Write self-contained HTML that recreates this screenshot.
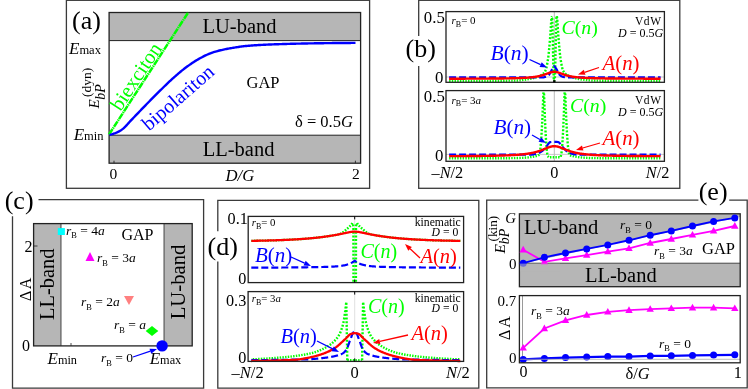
<!DOCTYPE html>
<html><head><meta charset="utf-8"><style>
html,body{margin:0;padding:0;background:#fff;}
svg{display:block;font-family:"Liberation Serif",serif;will-change:transform;}
text{stroke:#fff;stroke-width:0;}
text.g{stroke:#b6b6b6;}
</style></head><body>
<svg width="748" height="389" viewBox="0 0 748 389">
<rect width="748" height="389" fill="#fff"/>
<rect x="66.4" y="0.3" width="303.20000000000005" height="188.0" fill="none" stroke="#3a3a3a" stroke-width="1.3"/>
<rect x="109.1" y="12.5" width="251.50000000000003" height="28.1" fill="#b6b6b6" stroke="none" stroke-width="1"/>
<rect x="109.1" y="135.2" width="251.50000000000003" height="28.0" fill="#b6b6b6" stroke="none" stroke-width="1"/>
<path d="M109.1,40.6H360.6M109.1,135.2H360.6" stroke="#222" stroke-width="1"/><path d="M114,163.2v-2.5M355.4,163.2v-2.5" stroke="#222" stroke-width="0.9"/>
<rect x="109.1" y="12.5" width="251.50000000000003" height="150.7" fill="none" stroke="#222" stroke-width="1.3"/>
<path d="M109.00,134.50 L188.20,12.50" fill="none" stroke="#00ff00" stroke-width="2.5" stroke-dasharray="6.5 0.7 1.3 0.7" />
<path d="M109.50,134.80 L110.50,134.59 L111.50,134.33 L112.50,134.04 L113.50,133.73 L114.50,133.38 L115.50,133.01 L116.50,132.61 L117.50,132.16 L118.50,131.67 L119.50,131.13 L120.50,130.54 L121.50,129.90 L122.50,129.16 L123.50,128.31 L124.50,127.37 L125.50,126.37 L126.50,125.31 L127.50,124.21 L128.50,123.10 L129.50,121.98 L130.50,120.88 L131.50,119.82 L132.50,118.79 L133.50,117.77 L134.50,116.73 L135.50,115.70 L136.50,114.66 L137.50,113.61 L138.50,112.57 L139.50,111.52 L140.50,110.48 L141.50,109.43 L142.50,108.39 L143.50,107.36 L144.50,106.33 L145.50,105.30 L146.50,104.28 L147.50,103.26 L148.50,102.24 L149.50,101.22 L150.50,100.21 L151.50,99.19 L152.50,98.18 L153.50,97.18 L154.50,96.17 L155.50,95.17 L156.50,94.18 L157.50,93.18 L158.50,92.19 L159.50,91.21 L160.50,90.22 L161.50,89.23 L162.50,88.24 L163.50,87.26 L164.50,86.27 L165.50,85.30 L166.50,84.32 L167.50,83.36 L168.50,82.41 L169.50,81.46 L170.50,80.53 L171.50,79.61 L172.50,78.71 L173.50,77.82 L174.50,76.93 L175.50,76.04 L176.50,75.17 L177.50,74.30 L178.50,73.44 L179.50,72.59 L180.50,71.75 L181.50,70.93 L182.50,70.12 L183.50,69.33 L184.50,68.55 L185.50,67.80 L186.50,67.06 L187.50,66.33 L188.50,65.61 L189.50,64.89 L190.50,64.19 L191.50,63.50 L192.50,62.82 L193.50,62.16 L194.50,61.51 L195.50,60.88 L196.50,60.26 L197.50,59.67 L198.50,59.10 L199.50,58.55 L200.50,58.01 L201.50,57.48 L202.50,56.95 L203.50,56.44 L204.50,55.94 L205.50,55.45 L206.50,54.97 L207.50,54.51 L208.50,54.07 L209.50,53.65 L210.50,53.26 L211.50,52.88 L212.50,52.53 L213.50,52.21 L214.50,51.90 L215.50,51.60 L216.50,51.32 L217.50,51.04 L218.50,50.78 L219.50,50.53 L220.50,50.29 L221.50,50.05 L222.50,49.83 L223.50,49.61 L224.50,49.39 L225.50,49.18 L226.50,48.98 L227.50,48.78 L228.50,48.59 L229.50,48.41 L230.50,48.23 L231.50,48.06 L232.50,47.90 L233.50,47.74 L234.50,47.58 L235.50,47.42 L236.50,47.26 L237.50,47.10 L238.50,46.95 L239.50,46.79 L240.50,46.64 L241.50,46.50 L242.50,46.36 L243.50,46.23 L244.50,46.12 L245.50,46.02 L246.50,45.93 L247.50,45.84 L248.50,45.76 L249.50,45.68 L250.50,45.60 L251.50,45.52 L252.50,45.45 L253.50,45.38 L254.50,45.31 L255.50,45.25 L256.50,45.18 L257.50,45.12 L258.50,45.06 L259.50,45.00 L260.50,44.95 L261.50,44.90 L262.50,44.84 L263.50,44.79 L264.50,44.74 L265.50,44.70 L266.50,44.65 L267.50,44.61 L268.50,44.56 L269.50,44.52 L270.50,44.48 L271.50,44.44 L272.50,44.40 L273.50,44.36 L274.50,44.32 L275.50,44.29 L276.50,44.25 L277.50,44.21 L278.50,44.18 L279.50,44.15 L280.50,44.11 L281.50,44.08 L282.50,44.05 L283.50,44.02 L284.50,43.99 L285.50,43.96 L286.50,43.93 L287.50,43.90 L288.50,43.87 L289.50,43.85 L290.50,43.82 L291.50,43.79 L292.50,43.77 L293.50,43.74 L294.50,43.72 L295.50,43.69 L296.50,43.67 L297.50,43.65 L298.50,43.63 L299.50,43.60 L300.50,43.58 L301.50,43.56 L302.50,43.54 L303.50,43.52 L304.50,43.50 L305.50,43.48 L306.50,43.46 L307.50,43.44 L308.50,43.42 L309.50,43.40 L310.50,43.38 L311.50,43.37 L312.50,43.35 L313.50,43.33 L314.50,43.31 L315.50,43.30 L316.50,43.28 L317.50,43.27 L318.50,43.25 L319.50,43.23 L320.50,43.22 L321.50,43.21 L322.50,43.19 L323.50,43.18 L324.50,43.16 L325.50,43.15 L326.50,43.14 L327.50,43.13 L328.50,43.12 L329.50,43.11 L330.50,43.09 L331.50,43.08 L332.50,43.07 L333.50,43.06 L334.50,43.05 L335.50,43.04 L336.50,43.04 L337.50,43.03 L338.50,43.02 L339.50,43.01 L340.50,43.00 L341.50,42.99 L342.50,42.98 L343.50,42.97 L344.50,42.97 L345.50,42.96 L346.50,42.95 L347.50,42.94 L348.50,42.94 L349.50,42.93 L350.50,42.93 L351.50,42.92 L352.50,42.92 L353.50,42.91 L354.50,42.91 L355.50,42.90" fill="none" stroke="#0000ff" stroke-width="2.4" stroke-linejoin="round"/>
<text x="72" y="29" font-size="26" fill="#000" text-anchor="start" stroke-width="0.35" >(a)</text>
<text x="202.5" y="33.3" font-size="20.5" fill="#000" text-anchor="start" stroke-width="0.35" class="g">LU-band</text>
<text x="202.7" y="155.6" font-size="20.5" fill="#000" text-anchor="start" stroke-width="0.35" class="g">LL-band</text>
<text x="69" y="53.5" font-size="17"><tspan font-style="italic">E</tspan><tspan font-size="12.5">max</tspan></text>
<text x="73.7" y="139.5" font-size="17"><tspan font-style="italic">E</tspan><tspan font-size="12.5">min</tspan></text>
<text x="246.5" y="88.4" font-size="16.5" fill="#000" text-anchor="start" stroke-width="0.25" >GAP</text>
<text x="295" y="126.5" font-size="16.5">δ = 0.5<tspan font-style="italic">G</tspan></text>
<text x="109.6" y="178.5" font-size="15.5" fill="#000" text-anchor="start" stroke-width="0.25" >0</text>
<text x="352" y="178.5" font-size="15.5" fill="#000" text-anchor="start" stroke-width="0.25" >2</text>
<text x="225.5" y="180.5" font-size="16.7" fill="#000" text-anchor="start" font-style="italic" stroke-width="0.25" >D/G</text>
<text x="120.5" y="112" font-size="20.5" fill="#00ff00" text-anchor="start" transform="rotate(-56.5 120.5 112)" stroke-width="0.35" >biexciton</text>
<text x="149" y="131.5" font-size="20.1" fill="#0000ff" text-anchor="start" transform="rotate(-41 149 131.5)" stroke-width="0.35" >bipolariton</text>
<text x="98.6" y="108.5" font-size="15" font-style="italic" transform="rotate(-90 98.6 108.5)">E</text>
<text x="105" y="99.8" font-size="14" font-style="italic" transform="rotate(-90 105 99.8)">bP</text>
<text x="91" y="97" font-size="13.5" transform="rotate(-90 91 97)">(dyn)</text>
<rect x="418.7" y="0.3" width="261.09999999999997" height="188.0" fill="none" stroke="#3a3a3a" stroke-width="1.3"/>
<path d="M554.3,11.6V82.3" stroke="#bbb" stroke-width="1"/>
<path d="M446,77H664.4" stroke="#bbb" stroke-width="0.8"/>
<path d="M449.10,80.99L450.58,80.99M451.81,80.99L453.24,80.99M454.53,80.98L455.96,80.98M457.24,80.98L458.67,80.97M459.91,80.97L461.34,80.97M462.62,80.96L464.05,80.96M465.34,80.96L466.77,80.95M468.00,80.95L469.48,80.94M470.72,80.94L472.15,80.93M473.43,80.93L474.86,80.92M476.10,80.91L477.58,80.91M478.81,80.90L480.24,80.89M481.53,80.89L482.96,80.88M484.24,80.87L485.67,80.86M486.91,80.85L488.34,80.85M489.62,80.84L491.05,80.83M492.34,80.82L493.77,80.81M495.00,80.80L496.48,80.79M497.72,80.78L499.15,80.76M500.43,80.75L501.86,80.74M503.10,80.73L504.58,80.71M505.81,80.70L507.24,80.69M508.53,80.67L509.96,80.66M511.24,80.64L512.67,80.63M513.91,80.61L515.34,80.59M516.62,80.54L518.05,80.45M519.34,80.35L520.77,80.22M522.00,80.08L523.43,79.91M524.72,79.74L526.15,79.54M527.39,79.36L528.81,79.14M530.05,78.93L531.48,78.63M532.72,78.33L534.15,77.93M535.37,77.55L536.78,77.05M537.96,76.59L539.37,75.98M540.53,75.43L541.87,74.69M543.00,73.87L544.15,72.74M545.08,71.55L545.87,69.89M546.31,68.32L546.74,66.41M547.05,64.77L547.40,62.83M547.68,61.17L547.99,59.20M548.24,57.53L548.48,55.58M548.67,53.88L548.87,51.92M549.03,50.22L549.21,48.22M549.36,46.55L549.53,44.55M549.68,42.85L549.84,40.92M549.99,39.19L550.16,37.20M550.29,35.53L550.43,33.54M550.54,31.81L550.66,29.87M550.77,28.13L550.89,26.15M550.99,24.46L551.12,22.48M551.24,20.79L551.40,18.81M551.58,17.12L552.01,16.38M552.13,18.05L552.23,20.06M552.29,21.75L552.36,23.74M552.41,25.48L552.46,27.43M552.51,29.17L552.56,31.16M552.60,32.85L552.65,34.84M552.69,36.53L552.73,38.52M552.77,40.27L552.82,42.26M552.85,43.94L552.90,45.92M552.93,47.66L552.98,49.64M553.01,51.32L553.06,53.35M553.09,55.04L553.14,57.03M553.18,58.73L553.22,60.72M553.26,62.46L553.31,64.44M553.35,66.13L553.40,68.12M553.45,69.82L553.50,71.82M553.56,73.51L553.63,75.50M553.69,77.24L553.79,79.19M553.98,80.90L554.75,79.98M554.86,78.27L554.94,76.30M555.01,74.56L555.07,72.57M555.12,70.87L555.18,68.87M555.22,67.18L555.27,65.19M555.32,63.45L555.36,61.51M555.40,59.77L555.45,57.78M555.48,56.09L555.53,54.10M555.56,52.36L555.61,50.38M555.64,48.70L555.69,46.72M555.72,44.98L555.77,43.00M555.80,41.26L555.85,39.32M555.89,37.58L555.93,35.59M555.97,33.90L556.02,31.91M556.06,30.17L556.11,28.23M556.16,26.48L556.22,24.53M556.27,22.79L556.35,20.80M556.42,19.12L556.53,17.12M556.84,16.12L557.12,18.07M557.28,19.75L557.42,21.73M557.54,23.42L557.67,25.41M557.77,27.14L557.89,29.08M558.00,30.81L558.12,32.80M558.23,34.49L558.38,36.47M558.52,38.16L558.69,40.15M558.84,41.84L559.01,43.83M559.15,45.52L559.33,47.49M559.48,49.19L559.66,51.14M559.83,52.85L560.03,54.82M560.23,56.53L560.49,58.46M560.76,60.17L561.08,62.10M561.36,63.74L561.72,65.68M562.06,67.33L562.53,69.22M563.06,70.77L564.03,72.23M565.00,73.32L566.23,74.36M567.37,75.07L568.73,75.75M569.90,76.28L571.30,76.86M572.53,77.31L573.92,77.77M575.16,78.14L576.54,78.49M577.78,78.77L579.20,79.04M580.49,79.25L581.92,79.46M583.16,79.64L584.59,79.84M585.87,80.00L587.30,80.16M588.54,80.29L589.97,80.41M591.25,80.50L592.68,80.57M593.92,80.60L595.40,80.62M596.63,80.64L598.06,80.65M599.35,80.67L600.78,80.68M602.01,80.69L603.49,80.71M604.73,80.72L606.16,80.73M607.44,80.75L608.87,80.76M610.16,80.77L611.59,80.78M612.82,80.79L614.25,80.80M615.54,80.81L616.97,80.82M618.25,80.83L619.68,80.84M620.92,80.85L622.35,80.86M623.63,80.87L625.06,80.88M626.35,80.88L627.78,80.89M629.01,80.90L630.49,80.90M631.73,80.91L633.16,80.92M634.44,80.92L635.87,80.93M637.16,80.93L638.59,80.94M639.82,80.94L641.25,80.95M642.54,80.95L643.97,80.96M645.25,80.96L646.68,80.97M647.92,80.97L649.35,80.97M650.63,80.98L652.06,80.98M653.35,80.98L654.78,80.98M656.01,80.99L657.49,80.99M658.73,80.99L660.16,80.99" fill="none" stroke="#00ff00" stroke-width="2.4"/>
<path d="M449.10,77.40 L449.60,77.40 L450.10,77.40 L450.60,77.40 L451.10,77.40 L451.60,77.40 L452.10,77.40 L452.60,77.40 L453.10,77.40 L453.60,77.40 L454.10,77.40 L454.60,77.40 L455.10,77.40 L455.60,77.40 L456.10,77.40 L456.60,77.40 L457.10,77.40 L457.60,77.40 L458.10,77.40 L458.60,77.40 L459.10,77.40 L459.60,77.40 L460.10,77.40 L460.60,77.40 L461.10,77.40 L461.60,77.40 L462.10,77.40 L462.60,77.40 L463.10,77.40 L463.60,77.40 L464.10,77.40 L464.60,77.40 L465.10,77.40 L465.60,77.40 L466.10,77.40 L466.60,77.40 L467.10,77.40 L467.60,77.40 L468.10,77.40 L468.60,77.40 L469.10,77.40 L469.60,77.40 L470.10,77.40 L470.60,77.40 L471.10,77.40 L471.60,77.40 L472.10,77.40 L472.60,77.40 L473.10,77.40 L473.60,77.40 L474.10,77.40 L474.60,77.40 L475.10,77.40 L475.60,77.40 L476.10,77.40 L476.60,77.40 L477.10,77.40 L477.60,77.40 L478.10,77.40 L478.60,77.40 L479.10,77.40 L479.60,77.40 L480.10,77.40 L480.60,77.40 L481.10,77.40 L481.60,77.40 L482.10,77.40 L482.60,77.40 L483.10,77.40 L483.60,77.40 L484.10,77.40 L484.60,77.40 L485.10,77.40 L485.60,77.40 L486.10,77.40 L486.60,77.40 L487.10,77.40 L487.60,77.40 L488.10,77.40 L488.60,77.40 L489.10,77.40 L489.60,77.40 L490.10,77.40 L490.60,77.40 L491.10,77.40 L491.60,77.40 L492.10,77.40 L492.60,77.40 L493.10,77.40 L493.60,77.40 L494.10,77.40 L494.60,77.40 L495.10,77.40 L495.60,77.40 L496.10,77.40 L496.60,77.40 L497.10,77.40 L497.60,77.40 L498.10,77.40 L498.60,77.40 L499.10,77.40 L499.60,77.40 L500.10,77.40 L500.60,77.40 L501.10,77.40 L501.60,77.40 L502.10,77.40 L502.60,77.40 L503.10,77.40 L503.60,77.40 L504.10,77.40 L504.60,77.40 L505.10,77.40 L505.60,77.40 L506.10,77.40 L506.60,77.40 L507.10,77.40 L507.60,77.40 L508.10,77.40 L508.60,77.40 L509.10,77.40 L509.60,77.40 L510.10,77.40 L510.60,77.40 L511.10,77.40 L511.60,77.40 L512.10,77.40 L512.60,77.40 L513.10,77.40 L513.60,77.40 L514.10,77.40 L514.60,77.40 L515.10,77.40 L515.60,77.40 L516.10,77.40 L516.60,77.40 L517.10,77.40 L517.60,77.40 L518.10,77.40 L518.60,77.40 L519.10,77.40 L519.60,77.40 L520.10,77.40 L520.60,77.40 L521.10,77.40 L521.60,77.40 L522.10,77.40 L522.60,77.40 L523.10,77.40 L523.60,77.40 L524.10,77.40 L524.60,77.40 L525.10,77.40 L525.60,77.40 L526.10,77.40 L526.60,77.40 L527.10,77.40 L527.60,77.40 L528.10,77.40 L528.60,77.40 L529.10,77.40 L529.60,77.40 L530.10,77.40 L530.60,77.40 L531.10,77.40 L531.60,77.40 L532.10,77.40 L532.60,77.40 L533.10,77.40 L533.60,77.40 L534.10,77.40 L534.60,77.40 L535.10,77.40 L535.60,77.40 L536.10,77.40 L536.60,77.40 L537.10,77.40 L537.60,77.40 L538.10,77.40 L538.60,77.40 L539.10,77.40 L539.60,77.40 L540.10,77.40 L540.60,77.40 L541.10,77.40 L541.60,77.40 L542.10,77.40 L542.60,77.39 L543.10,77.36 L543.60,77.30 L544.10,77.21 L544.60,77.10 L545.10,76.98 L545.60,76.85 L546.10,76.71 L546.60,76.51 L547.10,76.25 L547.60,75.94 L548.10,75.58 L548.60,75.17 L549.10,74.69 L549.60,74.00 L550.10,73.13 L550.60,72.16 L551.10,71.15 L551.60,70.15 L552.10,69.23 L552.60,68.42 L553.10,67.65 L553.60,66.91 L554.10,66.18 L554.60,66.33 L555.10,67.06 L555.60,67.81 L556.10,68.58 L556.60,69.41 L557.10,70.35 L557.60,71.35 L558.10,72.36 L558.60,73.32 L559.10,74.15 L559.60,74.80 L560.10,75.26 L560.60,75.65 L561.10,76.00 L561.60,76.30 L562.10,76.55 L562.60,76.74 L563.10,76.88 L563.60,77.01 L564.10,77.13 L564.60,77.23 L565.10,77.31 L565.60,77.37 L566.10,77.40 L566.60,77.40 L567.10,77.40 L567.60,77.40 L568.10,77.40 L568.60,77.40 L569.10,77.40 L569.60,77.40 L570.10,77.40 L570.60,77.40 L571.10,77.40 L571.60,77.40 L572.10,77.40 L572.60,77.40 L573.10,77.40 L573.60,77.40 L574.10,77.40 L574.60,77.40 L575.10,77.40 L575.60,77.40 L576.10,77.40 L576.60,77.40 L577.10,77.40 L577.60,77.40 L578.10,77.40 L578.60,77.40 L579.10,77.40 L579.60,77.40 L580.10,77.40 L580.60,77.40 L581.10,77.40 L581.60,77.40 L582.10,77.40 L582.60,77.40 L583.10,77.40 L583.60,77.40 L584.10,77.40 L584.60,77.40 L585.10,77.40 L585.60,77.40 L586.10,77.40 L586.60,77.40 L587.10,77.40 L587.60,77.40 L588.10,77.40 L588.60,77.40 L589.10,77.40 L589.60,77.40 L590.10,77.40 L590.60,77.40 L591.10,77.40 L591.60,77.40 L592.10,77.40 L592.60,77.40 L593.10,77.40 L593.60,77.40 L594.10,77.40 L594.60,77.40 L595.10,77.40 L595.60,77.40 L596.10,77.40 L596.60,77.40 L597.10,77.40 L597.60,77.40 L598.10,77.40 L598.60,77.40 L599.10,77.40 L599.60,77.40 L600.10,77.40 L600.60,77.40 L601.10,77.40 L601.60,77.40 L602.10,77.40 L602.60,77.40 L603.10,77.40 L603.60,77.40 L604.10,77.40 L604.60,77.40 L605.10,77.40 L605.60,77.40 L606.10,77.40 L606.60,77.40 L607.10,77.40 L607.60,77.40 L608.10,77.40 L608.60,77.40 L609.10,77.40 L609.60,77.40 L610.10,77.40 L610.60,77.40 L611.10,77.40 L611.60,77.40 L612.10,77.40 L612.60,77.40 L613.10,77.40 L613.60,77.40 L614.10,77.40 L614.60,77.40 L615.10,77.40 L615.60,77.40 L616.10,77.40 L616.60,77.40 L617.10,77.40 L617.60,77.40 L618.10,77.40 L618.60,77.40 L619.10,77.40 L619.60,77.40 L620.10,77.40 L620.60,77.40 L621.10,77.40 L621.60,77.40 L622.10,77.40 L622.60,77.40 L623.10,77.40 L623.60,77.40 L624.10,77.40 L624.60,77.40 L625.10,77.40 L625.60,77.40 L626.10,77.40 L626.60,77.40 L627.10,77.40 L627.60,77.40 L628.10,77.40 L628.60,77.40 L629.10,77.40 L629.60,77.40 L630.10,77.40 L630.60,77.40 L631.10,77.40 L631.60,77.40 L632.10,77.40 L632.60,77.40 L633.10,77.40 L633.60,77.40 L634.10,77.40 L634.60,77.40 L635.10,77.40 L635.60,77.40 L636.10,77.40 L636.60,77.40 L637.10,77.40 L637.60,77.40 L638.10,77.40 L638.60,77.40 L639.10,77.40 L639.60,77.40 L640.10,77.40 L640.60,77.40 L641.10,77.40 L641.60,77.40 L642.10,77.40 L642.60,77.40 L643.10,77.40 L643.60,77.40 L644.10,77.40 L644.60,77.40 L645.10,77.40 L645.60,77.40 L646.10,77.40 L646.60,77.40 L647.10,77.40 L647.60,77.40 L648.10,77.40 L648.60,77.40 L649.10,77.40 L649.60,77.40 L650.10,77.40 L650.60,77.40 L651.10,77.40 L651.60,77.40 L652.10,77.40 L652.60,77.40 L653.10,77.40 L653.60,77.40 L654.10,77.40 L654.60,77.40 L655.10,77.40 L655.60,77.40 L656.10,77.40 L656.60,77.40 L657.10,77.40 L657.60,77.40 L658.10,77.40 L658.60,77.40 L659.10,77.40 L659.60,77.40 L660.10,77.40 L660.60,77.40" fill="none" stroke="#0000ff" stroke-width="2.2" stroke-dasharray="7 3" />
<path d="M449.10,78.71 L449.60,78.71 L450.10,78.71 L450.60,78.71 L451.10,78.71 L451.60,78.71 L452.10,78.70 L452.60,78.70 L453.10,78.70 L453.60,78.70 L454.10,78.70 L454.60,78.70 L455.10,78.70 L455.60,78.70 L456.10,78.70 L456.60,78.70 L457.10,78.69 L457.60,78.69 L458.10,78.69 L458.60,78.69 L459.10,78.69 L459.60,78.69 L460.10,78.69 L460.60,78.69 L461.10,78.69 L461.60,78.68 L462.10,78.68 L462.60,78.68 L463.10,78.68 L463.60,78.68 L464.10,78.68 L464.60,78.68 L465.10,78.68 L465.60,78.67 L466.10,78.67 L466.60,78.67 L467.10,78.67 L467.60,78.67 L468.10,78.67 L468.60,78.67 L469.10,78.66 L469.60,78.66 L470.10,78.66 L470.60,78.66 L471.10,78.66 L471.60,78.66 L472.10,78.65 L472.60,78.65 L473.10,78.65 L473.60,78.65 L474.10,78.65 L474.60,78.64 L475.10,78.64 L475.60,78.64 L476.10,78.64 L476.60,78.64 L477.10,78.63 L477.60,78.63 L478.10,78.63 L478.60,78.63 L479.10,78.63 L479.60,78.62 L480.10,78.62 L480.60,78.62 L481.10,78.62 L481.60,78.61 L482.10,78.61 L482.60,78.61 L483.10,78.61 L483.60,78.60 L484.10,78.60 L484.60,78.60 L485.10,78.60 L485.60,78.59 L486.10,78.59 L486.60,78.59 L487.10,78.58 L487.60,78.58 L488.10,78.58 L488.60,78.57 L489.10,78.57 L489.60,78.57 L490.10,78.56 L490.60,78.56 L491.10,78.56 L491.60,78.55 L492.10,78.55 L492.60,78.54 L493.10,78.54 L493.60,78.54 L494.10,78.53 L494.60,78.53 L495.10,78.52 L495.60,78.52 L496.10,78.51 L496.60,78.51 L497.10,78.50 L497.60,78.50 L498.10,78.49 L498.60,78.49 L499.10,78.48 L499.60,78.48 L500.10,78.47 L500.60,78.47 L501.10,78.46 L501.60,78.45 L502.10,78.45 L502.60,78.44 L503.10,78.44 L503.60,78.43 L504.10,78.42 L504.60,78.41 L505.10,78.41 L505.60,78.40 L506.10,78.39 L506.60,78.38 L507.10,78.38 L507.60,78.37 L508.10,78.36 L508.60,78.35 L509.10,78.34 L509.60,78.33 L510.10,78.32 L510.60,78.31 L511.10,78.30 L511.60,78.29 L512.10,78.28 L512.60,78.26 L513.10,78.25 L513.60,78.24 L514.10,78.23 L514.60,78.21 L515.10,78.20 L515.60,78.19 L516.10,78.17 L516.60,78.16 L517.10,78.14 L517.60,78.12 L518.10,78.11 L518.60,78.09 L519.10,78.07 L519.60,78.05 L520.10,78.03 L520.60,78.01 L521.10,77.99 L521.60,77.97 L522.10,77.95 L522.60,77.92 L523.10,77.90 L523.60,77.87 L524.10,77.85 L524.60,77.82 L525.10,77.79 L525.60,77.76 L526.10,77.73 L526.60,77.69 L527.10,77.66 L527.60,77.62 L528.10,77.59 L528.60,77.55 L529.10,77.51 L529.60,77.46 L530.10,77.42 L530.60,77.37 L531.10,77.32 L531.60,77.27 L532.10,77.22 L532.60,77.16 L533.10,77.10 L533.60,77.04 L534.10,76.97 L534.60,76.91 L535.10,76.83 L535.60,76.76 L536.10,76.68 L536.60,76.60 L537.10,76.51 L537.60,76.42 L538.10,76.32 L538.60,76.22 L539.10,76.11 L539.60,76.00 L540.10,75.88 L540.60,75.76 L541.10,75.63 L541.60,75.50 L542.10,75.36 L542.60,75.21 L543.10,75.06 L543.60,74.90 L544.10,74.74 L544.60,74.57 L545.10,74.39 L545.60,74.21 L546.10,74.03 L546.60,73.84 L547.10,73.65 L547.60,73.46 L548.10,73.27 L548.60,73.09 L549.10,72.91 L549.60,72.73 L550.10,72.56 L550.60,72.41 L551.10,72.26 L551.60,72.14 L552.10,72.03 L552.60,71.94 L553.10,71.87 L553.60,71.82 L554.10,71.80 L554.60,71.80 L555.10,71.83 L555.60,71.88 L556.10,71.95 L556.60,72.05 L557.10,72.16 L557.60,72.29 L558.10,72.44 L558.60,72.60 L559.10,72.77 L559.60,72.94 L560.10,73.13 L560.60,73.31 L561.10,73.50 L561.60,73.69 L562.10,73.88 L562.60,74.07 L563.10,74.25 L563.60,74.43 L564.10,74.60 L564.60,74.77 L565.10,74.93 L565.60,75.09 L566.10,75.24 L566.60,75.39 L567.10,75.53 L567.60,75.66 L568.10,75.79 L568.60,75.91 L569.10,76.02 L569.60,76.13 L570.10,76.24 L570.60,76.34 L571.10,76.44 L571.60,76.53 L572.10,76.61 L572.60,76.70 L573.10,76.77 L573.60,76.85 L574.10,76.92 L574.60,76.99 L575.10,77.05 L575.60,77.11 L576.10,77.17 L576.60,77.23 L577.10,77.28 L577.60,77.33 L578.10,77.38 L578.60,77.43 L579.10,77.47 L579.60,77.51 L580.10,77.56 L580.60,77.59 L581.10,77.63 L581.60,77.67 L582.10,77.70 L582.60,77.73 L583.10,77.76 L583.60,77.79 L584.10,77.82 L584.60,77.85 L585.10,77.88 L585.60,77.90 L586.10,77.93 L586.60,77.95 L587.10,77.97 L587.60,78.00 L588.10,78.02 L588.60,78.04 L589.10,78.06 L589.60,78.07 L590.10,78.09 L590.60,78.11 L591.10,78.13 L591.60,78.14 L592.10,78.16 L592.60,78.17 L593.10,78.19 L593.60,78.20 L594.10,78.22 L594.60,78.23 L595.10,78.24 L595.60,78.26 L596.10,78.27 L596.60,78.28 L597.10,78.29 L597.60,78.30 L598.10,78.31 L598.60,78.32 L599.10,78.33 L599.60,78.34 L600.10,78.35 L600.60,78.36 L601.10,78.37 L601.60,78.38 L602.10,78.38 L602.60,78.39 L603.10,78.40 L603.60,78.41 L604.10,78.42 L604.60,78.42 L605.10,78.43 L605.60,78.44 L606.10,78.44 L606.60,78.45 L607.10,78.46 L607.60,78.46 L608.10,78.47 L608.60,78.47 L609.10,78.48 L609.60,78.49 L610.10,78.49 L610.60,78.50 L611.10,78.50 L611.60,78.51 L612.10,78.51 L612.60,78.52 L613.10,78.52 L613.60,78.52 L614.10,78.53 L614.60,78.53 L615.10,78.54 L615.60,78.54 L616.10,78.55 L616.60,78.55 L617.10,78.55 L617.60,78.56 L618.10,78.56 L618.60,78.56 L619.10,78.57 L619.60,78.57 L620.10,78.57 L620.60,78.58 L621.10,78.58 L621.60,78.58 L622.10,78.59 L622.60,78.59 L623.10,78.59 L623.60,78.60 L624.10,78.60 L624.60,78.60 L625.10,78.60 L625.60,78.61 L626.10,78.61 L626.60,78.61 L627.10,78.61 L627.60,78.62 L628.10,78.62 L628.60,78.62 L629.10,78.62 L629.60,78.63 L630.10,78.63 L630.60,78.63 L631.10,78.63 L631.60,78.64 L632.10,78.64 L632.60,78.64 L633.10,78.64 L633.60,78.64 L634.10,78.65 L634.60,78.65 L635.10,78.65 L635.60,78.65 L636.10,78.65 L636.60,78.65 L637.10,78.66 L637.60,78.66 L638.10,78.66 L638.60,78.66 L639.10,78.66 L639.60,78.66 L640.10,78.67 L640.60,78.67 L641.10,78.67 L641.60,78.67 L642.10,78.67 L642.60,78.67 L643.10,78.67 L643.60,78.68 L644.10,78.68 L644.60,78.68 L645.10,78.68 L645.60,78.68 L646.10,78.68 L646.60,78.68 L647.10,78.68 L647.60,78.69 L648.10,78.69 L648.60,78.69 L649.10,78.69 L649.60,78.69 L650.10,78.69 L650.60,78.69 L651.10,78.69 L651.60,78.70 L652.10,78.70 L652.60,78.70 L653.10,78.70 L653.60,78.70 L654.10,78.70 L654.60,78.70 L655.10,78.70 L655.60,78.70 L656.10,78.70 L656.60,78.70 L657.10,78.71 L657.60,78.71 L658.10,78.71 L658.60,78.71 L659.10,78.71 L659.60,78.71 L660.10,78.71 L660.60,78.71" fill="none" stroke="#ff0000" stroke-width="2.4" />
<rect x="446" y="11.6" width="218.39999999999998" height="70.7" fill="none" stroke="#222" stroke-width="1.3"/>
<rect x="553.0999999999999" y="80.2" width="2.4" height="2.2" fill="#000"/>
<path d="M554.3,90.6V161.3" stroke="#bbb" stroke-width="1"/>
<path d="M446,154.4H664.4" stroke="#bbb" stroke-width="0.8"/>
<path d="M449.10,158.30L450.58,158.30M451.81,158.30L453.24,158.30M454.53,158.30L455.96,158.30M457.24,158.30L458.67,158.30M459.91,158.30L461.34,158.30M462.62,158.30L464.05,158.30M465.34,158.30L466.77,158.30M468.00,158.30L469.48,158.30M470.72,158.30L472.15,158.30M473.43,158.30L474.86,158.30M476.10,158.30L477.58,158.30M478.81,158.30L480.24,158.30M481.53,158.29L482.96,158.29M484.24,158.29L485.67,158.29M486.91,158.29L488.34,158.29M489.62,158.29L491.05,158.29M492.34,158.28L493.77,158.28M495.00,158.28L496.48,158.27M497.72,158.27L499.15,158.26M500.43,158.26L501.86,158.25M503.10,158.24L504.58,158.23M505.81,158.22L507.24,158.21M508.53,158.20L509.96,158.18M511.24,158.16L512.67,158.14M513.91,158.11L515.34,158.08M516.62,158.05L518.05,158.00M519.34,157.96L520.77,157.90M522.00,157.84L523.43,157.76M524.72,157.68L526.15,157.57M527.43,157.46L528.86,157.32M530.10,157.17L531.53,156.98M532.77,156.78L534.20,156.52M535.48,156.25L536.86,155.91M538.10,155.56L539.33,154.69M539.75,153.08L540.08,151.13M540.29,149.47L540.51,147.52M540.68,145.79L540.85,143.83M540.99,142.12L541.14,140.16M541.26,138.45L541.39,136.46M541.50,134.74L541.62,132.80M541.72,131.09L541.83,129.07M541.92,127.38L542.03,125.38M542.11,123.71L542.21,121.72M542.29,120.02L542.38,118.00M542.46,116.32L542.55,114.33M542.62,112.60L542.70,110.63M542.78,108.90L542.86,106.91M542.92,105.23L543.00,103.26M543.07,101.53L543.14,99.55M543.21,97.81L543.28,95.86M543.34,94.13L543.57,92.40M544.04,93.54L544.10,95.52M544.16,97.22L544.22,99.21M544.28,100.94L544.35,102.92M544.41,104.61L544.48,106.63M544.54,108.30L544.61,110.29M544.68,112.03L544.76,114.01M544.82,115.69L544.90,117.68M544.97,119.39L545.06,121.37M545.13,123.11L545.22,125.10M545.30,126.77L545.40,128.77M545.48,130.48L545.58,132.47M545.67,134.18L545.78,136.16M545.88,137.86L546.00,139.83M546.11,141.53L546.25,143.54M546.38,145.25L546.53,147.18M546.69,148.93L546.88,150.87M547.08,152.57L547.35,154.49M547.70,156.16L548.73,157.20M550.00,157.20L551.43,157.20M552.70,157.20L554.13,157.20M555.40,157.20L556.83,157.20M558.10,157.20L559.53,157.20M560.68,156.80L561.16,154.97M561.43,153.30L561.67,151.31M561.85,149.61L562.03,147.68M562.17,145.97L562.32,143.97M562.44,142.27L562.57,140.27M562.67,138.60L562.79,136.60M562.89,134.92L562.99,132.91M563.08,131.23L563.18,129.21M563.26,127.52L563.36,125.54M563.44,123.81L563.52,121.86M563.60,120.13L563.68,118.17M563.75,116.43L563.83,114.45M563.89,112.73L563.97,110.74M564.03,109.05L564.11,107.07M564.17,105.35L564.24,103.37M564.30,101.63L564.36,99.65M564.42,97.97L564.49,95.97M564.54,94.28L564.70,92.40M565.24,93.44L565.31,95.41M565.37,97.11L565.44,99.10M565.51,100.79L565.58,102.77M565.65,104.49L565.73,106.46M565.80,108.20L565.88,110.18M565.95,111.91L566.03,113.88M566.11,115.58L566.20,117.56M566.28,119.28L566.37,121.24M566.45,122.96L566.55,124.94M566.64,126.65L566.75,128.62M566.84,130.35L566.95,132.31M567.06,134.04L567.18,136.02M567.29,137.73L567.43,139.72M567.56,141.39L567.71,143.38M567.86,145.06L568.04,147.04M568.22,148.74L568.46,150.70M568.72,152.38L569.13,154.27M569.97,155.39L571.40,155.81M572.63,156.13L574.06,156.45M575.30,156.69L576.73,156.92M577.97,157.10L579.40,157.28M580.68,157.41L582.11,157.54M583.35,157.64L584.82,157.74M586.06,157.81L587.49,157.88M588.78,157.94L590.20,157.99M591.44,158.03L592.92,158.07M594.16,158.10L595.59,158.13M596.87,158.15L598.30,158.17M599.54,158.19L601.01,158.21M602.25,158.22L603.68,158.23M604.97,158.24L606.40,158.25M607.68,158.26L609.11,158.26M610.35,158.27L611.78,158.27M613.06,158.28L614.49,158.28M615.78,158.28L617.20,158.28M618.44,158.29L619.92,158.29M621.16,158.29L622.59,158.29M623.87,158.29L625.30,158.29M626.54,158.29L628.01,158.30M629.25,158.30L630.68,158.30M631.97,158.30L633.40,158.30M634.68,158.30L636.11,158.30M637.35,158.30L638.78,158.30M640.06,158.30L641.49,158.30M642.78,158.30L644.20,158.30M645.44,158.30L646.92,158.30M648.16,158.30L649.59,158.30M650.87,158.30L652.30,158.30M653.54,158.30L655.01,158.30M656.25,158.30L657.68,158.30M658.97,158.30L660.30,158.30" fill="none" stroke="#00ff00" stroke-width="2.4"/>
<path d="M449.10,154.60 L449.60,154.60 L450.10,154.60 L450.60,154.60 L451.10,154.60 L451.60,154.60 L452.10,154.60 L452.60,154.60 L453.10,154.60 L453.60,154.60 L454.10,154.60 L454.60,154.60 L455.10,154.60 L455.60,154.60 L456.10,154.60 L456.60,154.60 L457.10,154.60 L457.60,154.60 L458.10,154.60 L458.60,154.60 L459.10,154.60 L459.60,154.60 L460.10,154.60 L460.60,154.60 L461.10,154.60 L461.60,154.60 L462.10,154.60 L462.60,154.60 L463.10,154.60 L463.60,154.60 L464.10,154.60 L464.60,154.60 L465.10,154.60 L465.60,154.60 L466.10,154.60 L466.60,154.60 L467.10,154.60 L467.60,154.60 L468.10,154.60 L468.60,154.60 L469.10,154.60 L469.60,154.60 L470.10,154.60 L470.60,154.60 L471.10,154.60 L471.60,154.60 L472.10,154.60 L472.60,154.60 L473.10,154.60 L473.60,154.60 L474.10,154.60 L474.60,154.60 L475.10,154.60 L475.60,154.60 L476.10,154.60 L476.60,154.60 L477.10,154.60 L477.60,154.60 L478.10,154.60 L478.60,154.60 L479.10,154.60 L479.60,154.60 L480.10,154.60 L480.60,154.60 L481.10,154.60 L481.60,154.60 L482.10,154.60 L482.60,154.60 L483.10,154.60 L483.60,154.60 L484.10,154.60 L484.60,154.60 L485.10,154.60 L485.60,154.60 L486.10,154.60 L486.60,154.60 L487.10,154.60 L487.60,154.60 L488.10,154.60 L488.60,154.60 L489.10,154.60 L489.60,154.60 L490.10,154.60 L490.60,154.60 L491.10,154.60 L491.60,154.60 L492.10,154.60 L492.60,154.60 L493.10,154.60 L493.60,154.60 L494.10,154.60 L494.60,154.60 L495.10,154.60 L495.60,154.60 L496.10,154.60 L496.60,154.60 L497.10,154.60 L497.60,154.60 L498.10,154.60 L498.60,154.60 L499.10,154.60 L499.60,154.60 L500.10,154.60 L500.60,154.60 L501.10,154.60 L501.60,154.60 L502.10,154.60 L502.60,154.60 L503.10,154.60 L503.60,154.60 L504.10,154.60 L504.60,154.60 L505.10,154.60 L505.60,154.60 L506.10,154.60 L506.60,154.60 L507.10,154.60 L507.60,154.60 L508.10,154.60 L508.60,154.60 L509.10,154.60 L509.60,154.60 L510.10,154.60 L510.60,154.60 L511.10,154.60 L511.60,154.60 L512.10,154.60 L512.60,154.60 L513.10,154.60 L513.60,154.60 L514.10,154.60 L514.60,154.60 L515.10,154.60 L515.60,154.60 L516.10,154.60 L516.60,154.60 L517.10,154.60 L517.60,154.60 L518.10,154.60 L518.60,154.60 L519.10,154.60 L519.60,154.60 L520.10,154.60 L520.60,154.60 L521.10,154.60 L521.60,154.60 L522.10,154.60 L522.60,154.60 L523.10,154.60 L523.60,154.60 L524.10,154.60 L524.60,154.60 L525.10,154.60 L525.60,154.60 L526.10,154.60 L526.60,154.60 L527.10,154.60 L527.60,154.60 L528.10,154.60 L528.60,154.60 L529.10,154.60 L529.60,154.60 L530.10,154.60 L530.60,154.60 L531.10,154.60 L531.60,154.60 L532.10,154.57 L532.60,154.52 L533.10,154.46 L533.60,154.38 L534.10,154.29 L534.60,154.19 L535.10,154.08 L535.60,153.96 L536.10,153.85 L536.60,153.73 L537.10,153.58 L537.60,153.42 L538.10,153.23 L538.60,153.02 L539.10,152.80 L539.60,152.55 L540.10,152.29 L540.60,152.01 L541.10,151.72 L541.60,151.40 L542.10,151.03 L542.60,150.59 L543.10,150.11 L543.60,149.60 L544.10,149.05 L544.60,148.49 L545.10,147.93 L545.60,147.36 L546.10,146.81 L546.60,146.26 L547.10,145.61 L547.60,144.89 L548.10,144.17 L548.60,143.49 L549.10,142.89 L549.60,142.42 L550.10,142.15 L550.60,142.06 L551.10,142.00 L551.60,141.94 L552.10,141.90 L552.60,141.86 L553.10,141.83 L553.60,141.81 L554.10,141.80 L554.60,141.80 L555.10,141.81 L555.60,141.83 L556.10,141.86 L556.60,141.90 L557.10,141.95 L557.60,142.01 L558.10,142.07 L558.60,142.19 L559.10,142.50 L559.60,143.00 L560.10,143.62 L560.60,144.31 L561.10,145.04 L561.60,145.74 L562.10,146.38 L562.60,146.92 L563.10,147.48 L563.60,148.04 L564.10,148.61 L564.60,149.16 L565.10,149.70 L565.60,150.21 L566.10,150.68 L566.60,151.11 L567.10,151.47 L567.60,151.78 L568.10,152.07 L568.60,152.35 L569.10,152.60 L569.60,152.84 L570.10,153.07 L570.60,153.27 L571.10,153.45 L571.60,153.61 L572.10,153.75 L572.60,153.87 L573.10,153.99 L573.60,154.10 L574.10,154.21 L574.60,154.31 L575.10,154.40 L575.60,154.47 L576.10,154.54 L576.60,154.58 L577.10,154.60 L577.60,154.60 L578.10,154.60 L578.60,154.60 L579.10,154.60 L579.60,154.60 L580.10,154.60 L580.60,154.60 L581.10,154.60 L581.60,154.60 L582.10,154.60 L582.60,154.60 L583.10,154.60 L583.60,154.60 L584.10,154.60 L584.60,154.60 L585.10,154.60 L585.60,154.60 L586.10,154.60 L586.60,154.60 L587.10,154.60 L587.60,154.60 L588.10,154.60 L588.60,154.60 L589.10,154.60 L589.60,154.60 L590.10,154.60 L590.60,154.60 L591.10,154.60 L591.60,154.60 L592.10,154.60 L592.60,154.60 L593.10,154.60 L593.60,154.60 L594.10,154.60 L594.60,154.60 L595.10,154.60 L595.60,154.60 L596.10,154.60 L596.60,154.60 L597.10,154.60 L597.60,154.60 L598.10,154.60 L598.60,154.60 L599.10,154.60 L599.60,154.60 L600.10,154.60 L600.60,154.60 L601.10,154.60 L601.60,154.60 L602.10,154.60 L602.60,154.60 L603.10,154.60 L603.60,154.60 L604.10,154.60 L604.60,154.60 L605.10,154.60 L605.60,154.60 L606.10,154.60 L606.60,154.60 L607.10,154.60 L607.60,154.60 L608.10,154.60 L608.60,154.60 L609.10,154.60 L609.60,154.60 L610.10,154.60 L610.60,154.60 L611.10,154.60 L611.60,154.60 L612.10,154.60 L612.60,154.60 L613.10,154.60 L613.60,154.60 L614.10,154.60 L614.60,154.60 L615.10,154.60 L615.60,154.60 L616.10,154.60 L616.60,154.60 L617.10,154.60 L617.60,154.60 L618.10,154.60 L618.60,154.60 L619.10,154.60 L619.60,154.60 L620.10,154.60 L620.60,154.60 L621.10,154.60 L621.60,154.60 L622.10,154.60 L622.60,154.60 L623.10,154.60 L623.60,154.60 L624.10,154.60 L624.60,154.60 L625.10,154.60 L625.60,154.60 L626.10,154.60 L626.60,154.60 L627.10,154.60 L627.60,154.60 L628.10,154.60 L628.60,154.60 L629.10,154.60 L629.60,154.60 L630.10,154.60 L630.60,154.60 L631.10,154.60 L631.60,154.60 L632.10,154.60 L632.60,154.60 L633.10,154.60 L633.60,154.60 L634.10,154.60 L634.60,154.60 L635.10,154.60 L635.60,154.60 L636.10,154.60 L636.60,154.60 L637.10,154.60 L637.60,154.60 L638.10,154.60 L638.60,154.60 L639.10,154.60 L639.60,154.60 L640.10,154.60 L640.60,154.60 L641.10,154.60 L641.60,154.60 L642.10,154.60 L642.60,154.60 L643.10,154.60 L643.60,154.60 L644.10,154.60 L644.60,154.60 L645.10,154.60 L645.60,154.60 L646.10,154.60 L646.60,154.60 L647.10,154.60 L647.60,154.60 L648.10,154.60 L648.60,154.60 L649.10,154.60 L649.60,154.60 L650.10,154.60 L650.60,154.60 L651.10,154.60 L651.60,154.60 L652.10,154.60 L652.60,154.60 L653.10,154.60 L653.60,154.60 L654.10,154.60 L654.60,154.60 L655.10,154.60 L655.60,154.60 L656.10,154.60 L656.60,154.60 L657.10,154.60 L657.60,154.60 L658.10,154.60 L658.60,154.60 L659.10,154.60 L659.60,154.60 L660.10,154.60 L660.60,154.60" fill="none" stroke="#0000ff" stroke-width="2.2" stroke-dasharray="7 3" />
<path d="M449.10,156.17 L449.60,156.17 L450.10,156.17 L450.60,156.16 L451.10,156.16 L451.60,156.16 L452.10,156.16 L452.60,156.15 L453.10,156.15 L453.60,156.15 L454.10,156.15 L454.60,156.14 L455.10,156.14 L455.60,156.14 L456.10,156.14 L456.60,156.13 L457.10,156.13 L457.60,156.13 L458.10,156.13 L458.60,156.12 L459.10,156.12 L459.60,156.12 L460.10,156.11 L460.60,156.11 L461.10,156.11 L461.60,156.10 L462.10,156.10 L462.60,156.10 L463.10,156.10 L463.60,156.09 L464.10,156.09 L464.60,156.09 L465.10,156.08 L465.60,156.08 L466.10,156.08 L466.60,156.07 L467.10,156.07 L467.60,156.06 L468.10,156.06 L468.60,156.06 L469.10,156.05 L469.60,156.05 L470.10,156.04 L470.60,156.04 L471.10,156.04 L471.60,156.03 L472.10,156.03 L472.60,156.02 L473.10,156.02 L473.60,156.01 L474.10,156.01 L474.60,156.00 L475.10,156.00 L475.60,156.00 L476.10,155.99 L476.60,155.99 L477.10,155.98 L477.60,155.97 L478.10,155.97 L478.60,155.96 L479.10,155.96 L479.60,155.95 L480.10,155.95 L480.60,155.94 L481.10,155.93 L481.60,155.93 L482.10,155.92 L482.60,155.92 L483.10,155.91 L483.60,155.90 L484.10,155.90 L484.60,155.89 L485.10,155.88 L485.60,155.88 L486.10,155.87 L486.60,155.86 L487.10,155.85 L487.60,155.85 L488.10,155.84 L488.60,155.83 L489.10,155.82 L489.60,155.81 L490.10,155.80 L490.60,155.79 L491.10,155.79 L491.60,155.78 L492.10,155.77 L492.60,155.76 L493.10,155.75 L493.60,155.74 L494.10,155.73 L494.60,155.72 L495.10,155.71 L495.60,155.69 L496.10,155.68 L496.60,155.67 L497.10,155.66 L497.60,155.65 L498.10,155.64 L498.60,155.62 L499.10,155.61 L499.60,155.60 L500.10,155.58 L500.60,155.57 L501.10,155.55 L501.60,155.54 L502.10,155.52 L502.60,155.51 L503.10,155.49 L503.60,155.48 L504.10,155.46 L504.60,155.44 L505.10,155.42 L505.60,155.41 L506.10,155.39 L506.60,155.37 L507.10,155.35 L507.60,155.33 L508.10,155.31 L508.60,155.29 L509.10,155.26 L509.60,155.24 L510.10,155.22 L510.60,155.19 L511.10,155.17 L511.60,155.14 L512.10,155.12 L512.60,155.09 L513.10,155.06 L513.60,155.03 L514.10,155.01 L514.60,154.97 L515.10,154.94 L515.60,154.91 L516.10,154.88 L516.60,154.84 L517.10,154.81 L517.60,154.77 L518.10,154.73 L518.60,154.69 L519.10,154.65 L519.60,154.61 L520.10,154.57 L520.60,154.52 L521.10,154.48 L521.60,154.43 L522.10,154.38 L522.60,154.33 L523.10,154.28 L523.60,154.22 L524.10,154.16 L524.60,154.11 L525.10,154.04 L525.60,153.98 L526.10,153.92 L526.60,153.85 L527.10,153.78 L527.60,153.70 L528.10,153.63 L528.60,153.55 L529.10,153.47 L529.60,153.39 L530.10,153.30 L530.60,153.21 L531.10,153.11 L531.60,153.01 L532.10,152.91 L532.60,152.81 L533.10,152.70 L533.60,152.59 L534.10,152.47 L534.60,152.35 L535.10,152.22 L535.60,152.09 L536.10,151.95 L536.60,151.81 L537.10,151.67 L537.60,151.52 L538.10,151.36 L538.60,151.20 L539.10,151.04 L539.60,150.87 L540.10,150.69 L540.60,150.51 L541.10,150.33 L541.60,150.14 L542.10,149.95 L542.60,149.75 L543.10,149.55 L543.60,149.35 L544.10,149.15 L544.60,148.94 L545.10,148.73 L545.60,148.53 L546.10,148.32 L546.60,148.12 L547.10,147.92 L547.60,147.72 L548.10,147.53 L548.60,147.35 L549.10,147.17 L549.60,147.01 L550.10,146.86 L550.60,146.72 L551.10,146.59 L551.60,146.48 L552.10,146.39 L552.60,146.31 L553.10,146.26 L553.60,146.22 L554.10,146.20 L554.60,146.20 L555.10,146.23 L555.60,146.27 L556.10,146.33 L556.60,146.41 L557.10,146.50 L557.60,146.62 L558.10,146.74 L558.60,146.89 L559.10,147.04 L559.60,147.21 L560.10,147.38 L560.60,147.57 L561.10,147.76 L561.60,147.96 L562.10,148.16 L562.60,148.36 L563.10,148.57 L563.60,148.78 L564.10,148.98 L564.60,149.19 L565.10,149.39 L565.60,149.59 L566.10,149.79 L566.60,149.99 L567.10,150.18 L567.60,150.37 L568.10,150.55 L568.60,150.73 L569.10,150.90 L569.60,151.07 L570.10,151.24 L570.60,151.39 L571.10,151.55 L571.60,151.70 L572.10,151.84 L572.60,151.98 L573.10,152.12 L573.60,152.25 L574.10,152.37 L574.60,152.49 L575.10,152.61 L575.60,152.72 L576.10,152.83 L576.60,152.93 L577.10,153.03 L577.60,153.13 L578.10,153.23 L578.60,153.32 L579.10,153.40 L579.60,153.49 L580.10,153.57 L580.60,153.64 L581.10,153.72 L581.60,153.79 L582.10,153.86 L582.60,153.93 L583.10,153.99 L583.60,154.06 L584.10,154.12 L584.60,154.18 L585.10,154.23 L585.60,154.29 L586.10,154.34 L586.60,154.39 L587.10,154.44 L587.60,154.49 L588.10,154.53 L588.60,154.58 L589.10,154.62 L589.60,154.66 L590.10,154.70 L590.60,154.74 L591.10,154.78 L591.60,154.81 L592.10,154.85 L592.60,154.88 L593.10,154.92 L593.60,154.95 L594.10,154.98 L594.60,155.01 L595.10,155.04 L595.60,155.07 L596.10,155.10 L596.60,155.12 L597.10,155.15 L597.60,155.17 L598.10,155.20 L598.60,155.22 L599.10,155.25 L599.60,155.27 L600.10,155.29 L600.60,155.31 L601.10,155.33 L601.60,155.35 L602.10,155.37 L602.60,155.39 L603.10,155.41 L603.60,155.43 L604.10,155.45 L604.60,155.46 L605.10,155.48 L605.60,155.50 L606.10,155.51 L606.60,155.53 L607.10,155.54 L607.60,155.56 L608.10,155.57 L608.60,155.59 L609.10,155.60 L609.60,155.61 L610.10,155.63 L610.60,155.64 L611.10,155.65 L611.60,155.66 L612.10,155.67 L612.60,155.69 L613.10,155.70 L613.60,155.71 L614.10,155.72 L614.60,155.73 L615.10,155.74 L615.60,155.75 L616.10,155.76 L616.60,155.77 L617.10,155.78 L617.60,155.79 L618.10,155.80 L618.60,155.81 L619.10,155.81 L619.60,155.82 L620.10,155.83 L620.60,155.84 L621.10,155.85 L621.60,155.85 L622.10,155.86 L622.60,155.87 L623.10,155.88 L623.60,155.88 L624.10,155.89 L624.60,155.90 L625.10,155.90 L625.60,155.91 L626.10,155.92 L626.60,155.92 L627.10,155.93 L627.60,155.94 L628.10,155.94 L628.60,155.95 L629.10,155.95 L629.60,155.96 L630.10,155.96 L630.60,155.97 L631.10,155.98 L631.60,155.98 L632.10,155.99 L632.60,155.99 L633.10,156.00 L633.60,156.00 L634.10,156.01 L634.60,156.01 L635.10,156.02 L635.60,156.02 L636.10,156.02 L636.60,156.03 L637.10,156.03 L637.60,156.04 L638.10,156.04 L638.60,156.05 L639.10,156.05 L639.60,156.05 L640.10,156.06 L640.60,156.06 L641.10,156.06 L641.60,156.07 L642.10,156.07 L642.60,156.08 L643.10,156.08 L643.60,156.08 L644.10,156.09 L644.60,156.09 L645.10,156.09 L645.60,156.10 L646.10,156.10 L646.60,156.10 L647.10,156.11 L647.60,156.11 L648.10,156.11 L648.60,156.11 L649.10,156.12 L649.60,156.12 L650.10,156.12 L650.60,156.13 L651.10,156.13 L651.60,156.13 L652.10,156.13 L652.60,156.14 L653.10,156.14 L653.60,156.14 L654.10,156.14 L654.60,156.15 L655.10,156.15 L655.60,156.15 L656.10,156.15 L656.60,156.16 L657.10,156.16 L657.60,156.16 L658.10,156.16 L658.60,156.17 L659.10,156.17 L659.60,156.17 L660.10,156.17 L660.60,156.17" fill="none" stroke="#ff0000" stroke-width="2.4" />
<rect x="446" y="90.6" width="218.39999999999998" height="70.70000000000002" fill="none" stroke="#222" stroke-width="1.3"/>
<rect x="404" y="36" width="32" height="30" fill="#fff"/>
<text x="405.5" y="57" font-size="26" fill="#000" text-anchor="start" stroke-width="0.35" >(b)</text>
<text x="423.8" y="23.3" font-size="16.8" fill="#000" text-anchor="start" stroke-width="0.25" >0.5</text>
<text x="435" y="83" font-size="16.8" fill="#000" text-anchor="start" stroke-width="0.25" >0</text>
<text x="423.8" y="102" font-size="16.8" fill="#000" text-anchor="start" stroke-width="0.25" >0.5</text>
<text x="435" y="160.5" font-size="16.8" fill="#000" text-anchor="start" stroke-width="0.25" >0</text>
<text x="431.5" y="178.3" font-size="16.3" fill="#000" text-anchor="start" stroke-width="0.25" >–<tspan font-style="italic">N</tspan>/2</text>
<text x="550.2" y="178.3" font-size="16.3" fill="#000" text-anchor="start" stroke-width="0.25" >0</text>
<text x="645.8" y="178.3" font-size="16.3" fill="#000" text-anchor="start" stroke-width="0.25" ><tspan font-style="italic">N</tspan>/2</text>
<text x="451.5" y="24.4" font-size="11"><tspan font-style="italic">r</tspan><tspan font-size="8" dy="2.5">B</tspan><tspan dy="-2.5">= 0</tspan></text>
<text x="451.5" y="103.6" font-size="11"><tspan font-style="italic">r</tspan><tspan font-size="8" dy="2.5">B</tspan><tspan dy="-2.5">= 3<tspan font-style="italic">a</tspan></tspan></text>
<text x="661.6" y="24.8" font-size="11.5" fill="#000" text-anchor="end" stroke-width="0.12" letter-spacing="0.6">VdW</text>
<text x="663.2" y="36.7" font-size="12" fill="#000" text-anchor="end" stroke-width="0.12" ><tspan font-style="italic">D</tspan> = 0.5<tspan font-style="italic">G</tspan></text>
<text x="661.6" y="103.8" font-size="11.5" fill="#000" text-anchor="end" stroke-width="0.12" letter-spacing="0.6">VdW</text>
<text x="663.2" y="115.7" font-size="12" fill="#000" text-anchor="end" stroke-width="0.12" ><tspan font-style="italic">D</tspan> = 0.5<tspan font-style="italic">G</tspan></text>
<text x="561.5" y="34" font-size="19.8" fill="#00ff00" text-anchor="start" stroke-width="0.35" ><tspan font-style="italic">C</tspan>(<tspan font-style="italic">n</tspan>)</text>
<text x="490.5" y="59.5" font-size="21.5" fill="#0000ff" text-anchor="start" stroke-width="0.35" ><tspan font-style="italic">B</tspan>(<tspan font-style="italic">n</tspan>)</text>
<text x="602.5" y="69.5" font-size="20.8" fill="#ff0000" text-anchor="start" stroke-width="0.35" ><tspan font-style="italic">A</tspan>(<tspan font-style="italic">n</tspan>)</text>
<text x="570" y="112" font-size="19.8" fill="#00ff00" text-anchor="start" stroke-width="0.35" ><tspan font-style="italic">C</tspan>(<tspan font-style="italic">n</tspan>)</text>
<text x="493.5" y="134.3" font-size="21.2" fill="#0000ff" text-anchor="start" stroke-width="0.35" ><tspan font-style="italic">B</tspan>(<tspan font-style="italic">n</tspan>)</text>
<text x="602.5" y="145" font-size="20.8" fill="#ff0000" text-anchor="start" stroke-width="0.35" ><tspan font-style="italic">A</tspan>(<tspan font-style="italic">n</tspan>)</text>
<path d="M529.5,59.5L540.6,64.6" stroke="#0000ff" stroke-width="1.3"/>
<path d="M547.0,67.5L539.6,67.0L541.7,62.2Z" fill="#0000ff"/>
<path d="M599.0,67.5L584.6,72.3" stroke="#ff0000" stroke-width="1.3"/>
<path d="M578.0,74.5L583.8,69.8L585.5,74.8Z" fill="#ff0000"/>
<path d="M532.0,135.0L539.9,139.5" stroke="#0000ff" stroke-width="1.3"/>
<path d="M546.0,143.0L538.6,141.8L541.2,137.3Z" fill="#0000ff"/>
<path d="M600.0,143.0L582.7,148.0" stroke="#ff0000" stroke-width="1.3"/>
<path d="M576.0,150.0L582.0,145.5L583.4,150.5Z" fill="#ff0000"/>
<path d="M38.5,199.6H203.6V388.1H12.5V216.3" fill="none" stroke="#3a3a3a" stroke-width="1.3"/>
<rect x="33.6" y="223.6" width="27.4" height="122.29999999999998" fill="#b6b6b6" stroke="none" stroke-width="1"/>
<rect x="164" y="223.6" width="28.19999999999999" height="122.29999999999998" fill="#b6b6b6" stroke="none" stroke-width="1"/>
<path d="M61,223.6V345.9M164,223.6V345.9" stroke="#222" stroke-width="0.8"/>
<rect x="33.6" y="223.6" width="158.6" height="122.29999999999998" fill="none" stroke="#222" stroke-width="1.3"/>
<path d="M33.6,246H37.5M71,345.9V343" stroke="#222" stroke-width="0.8"/>
<text x="4.7" y="208.6" font-size="26" fill="#000" text-anchor="start" stroke-width="0.35" >(c)</text>
<text x="24.5" y="252" font-size="16" fill="#000" text-anchor="start" stroke-width="0.25" >2</text>
<text x="22" y="350.7" font-size="16" fill="#000" text-anchor="start" stroke-width="0.25" >0</text>
<text x="30.5" y="301" font-size="16" fill="#000" text-anchor="start" transform="rotate(-90 30.5 301)" stroke-width="0.25" letter-spacing="1.5">ΔA</text>
<text x="54.2" y="320" font-size="20.4" fill="#000" text-anchor="start" transform="rotate(-90 54.2 320)" stroke-width="0.35" class="g">LL-band</text>
<text x="185.3" y="319.3" font-size="20.7" fill="#000" text-anchor="start" transform="rotate(-90 185.3 319.3)" stroke-width="0.35" class="g">LU-band</text>
<text x="121.5" y="240" font-size="16" fill="#000" text-anchor="start" stroke-width="0.25" >GAP</text>
<text x="66" y="234.5" font-size="13.5" stroke-width="0.15" ><tspan font-style="italic">r</tspan><tspan font-size="8.4" dy="3.5">B</tspan><tspan dy="-3.5"> = 4<tspan font-style="italic">a</tspan></tspan></text>
<text x="97" y="262" font-size="13.5" stroke-width="0.15" ><tspan font-style="italic">r</tspan><tspan font-size="8.4" dy="3.5">B</tspan><tspan dy="-3.5"> = 3<tspan font-style="italic">a</tspan></tspan></text>
<text x="81" y="306" font-size="13.5" stroke-width="0.15" ><tspan font-style="italic">r</tspan><tspan font-size="8.4" dy="3.5">B</tspan><tspan dy="-3.5"> = 2<tspan font-style="italic">a</tspan></tspan></text>
<text x="114" y="329" font-size="13.5" stroke-width="0.15" ><tspan font-style="italic">r</tspan><tspan font-size="8.4" dy="3.5">B</tspan><tspan dy="-3.5"> = <tspan font-style="italic">a</tspan></tspan></text>
<text x="101" y="362" font-size="13.5" stroke-width="0.15" ><tspan font-style="italic">r</tspan><tspan font-size="8.4" dy="3.5">B</tspan><tspan dy="-3.5"> = 0</tspan></text>
<text x="47.5" y="364.1" font-size="17"><tspan font-style="italic">E</tspan><tspan font-size="12.3">min</tspan></text>
<text x="149.7" y="364.1" font-size="17"><tspan font-style="italic">E</tspan><tspan font-size="12.3">max</tspan></text>
<rect x="57.8" y="228.1" width="7.1000000000000085" height="6.900000000000006" fill="#00ffff" stroke="none" stroke-width="1"/>
<path d="M90,252L94.5,261H85.5Z" fill="#ff00ff"/>
<path d="M124,296H134L129,305Z" fill="#ff8080"/>
<path d="M145.7,331L152,326L158.3,331L152,336Z" fill="#00ff00"/>
<path d="M133.0,357.0L150.4,351.2" stroke="#0000ff" stroke-width="1.3"/>
<path d="M157.0,349.0L151.2,353.7L149.5,348.7Z" fill="#0000ff"/>
<circle cx="162.1" cy="345.9" r="5.7" fill="#0000ff"/>
<path d="M217.8,231.2V200.3H478.8V388.1H217.8V261.5" fill="none" stroke="#3a3a3a" stroke-width="1.3"/>
<path d="M354.7,216.4V282.6" stroke="#e0e0e0" stroke-width="1"/>
<path d="M353.50,281.80L353.50,279.80M353.49,278.05L353.49,276.11M353.49,274.36L353.48,272.41M353.48,270.66L353.48,268.71M353.47,266.96L353.47,265.01M353.47,263.27L353.46,261.27M353.46,259.57L353.46,257.57M353.45,255.87L353.45,253.87M353.45,252.18L353.44,250.18M353.44,248.48L353.44,246.48M353.43,244.78L353.43,242.78M353.43,241.09L353.42,239.09M353.42,237.39L353.42,235.39M353.42,233.69L353.41,231.69M353.41,230.00L353.41,228.00M353.40,226.30L353.09,224.43M352.32,223.04L351.66,224.59M350.62,225.57L349.44,226.68M348.41,227.64L347.19,228.75M346.16,229.67L344.91,230.74M343.84,231.60L342.59,232.53M341.43,233.29L340.09,233.99M338.88,234.36L337.43,234.64M336.18,234.88L334.76,235.13M333.51,235.35L332.09,235.59M330.84,235.80L329.38,236.03M328.13,236.22L326.72,236.42M325.47,236.60L324.01,236.80M322.76,236.96L321.34,237.14M320.09,237.29L318.63,237.46M317.38,237.60L315.97,237.76M314.72,237.89L313.26,238.03M312.01,238.15L310.59,238.28M309.30,238.40L307.88,238.52M306.63,238.62L305.18,238.74M303.93,238.84L302.47,238.94M301.22,239.03L299.80,239.13M298.55,239.21L297.09,239.30M295.84,239.38L294.38,239.46M293.13,239.53L291.72,239.61M290.43,239.67L289.01,239.74M287.76,239.80L286.30,239.87M285.05,239.92L283.59,239.99M282.34,240.04L280.88,240.09M279.63,240.14L278.22,240.19M276.97,240.24L275.51,240.29M274.26,240.33L272.80,240.37M271.55,240.41L270.09,240.45M268.84,240.48L267.43,240.52M266.13,240.55L264.72,240.59M263.47,240.62L262.01,240.65M260.76,240.68L259.30,240.71M258.05,240.73L256.59,240.76M255.34,240.78L253.93,240.81M252.63,240.83L251.30,240.85" fill="none" stroke="#00ff00" stroke-width="2.4"/>
<path d="M355.90,281.80L355.90,279.80M355.91,278.05L355.91,276.11M355.91,274.36L355.92,272.41M355.92,270.66L355.92,268.71M355.93,266.96L355.93,265.01M355.93,263.27L355.94,261.27M355.94,259.57L355.94,257.57M355.95,255.87L355.95,253.87M355.95,252.18L355.96,250.18M355.96,248.48L355.96,246.48M355.97,244.78L355.97,242.78M355.97,241.09L355.98,239.09M355.98,237.39L355.98,235.39M355.98,233.69L355.99,231.69M355.99,230.00L355.99,228.00M356.00,226.30L356.31,224.43M357.08,223.04L357.74,224.59M358.78,225.57L359.96,226.68M360.99,227.64L362.21,228.75M363.24,229.67L364.49,230.74M365.56,231.60L366.81,232.53M367.97,233.29L369.31,233.99M370.52,234.36L371.97,234.64M373.22,234.88L374.64,235.13M375.89,235.35L377.31,235.59M378.56,235.80L380.02,236.03M381.27,236.22L382.68,236.42M383.93,236.60L385.39,236.80M386.64,236.96L388.06,237.14M389.31,237.29L390.77,237.46M392.02,237.60L393.43,237.76M394.68,237.89L396.14,238.03M397.39,238.15L398.81,238.28M400.10,238.40L401.52,238.52M402.77,238.62L404.22,238.74M405.47,238.84L406.93,238.94M408.18,239.03L409.60,239.13M410.85,239.21L412.31,239.30M413.56,239.38L415.02,239.46M416.27,239.53L417.68,239.61M418.97,239.67L420.39,239.74M421.64,239.80L423.10,239.87M424.35,239.92L425.81,239.99M427.06,240.04L428.52,240.09M429.77,240.14L431.18,240.19M432.43,240.24L433.89,240.29M435.14,240.33L436.60,240.37M437.85,240.41L439.31,240.45M440.56,240.48L441.97,240.52M443.27,240.55L444.68,240.59M445.93,240.62L447.39,240.65M448.64,240.68L450.10,240.71M451.35,240.73L452.81,240.76M454.06,240.78L455.47,240.81M456.77,240.83L458.18,240.85M459.43,240.87L460.35,240.89" fill="none" stroke="#00ff00" stroke-width="2.4"/>
<path d="M251.30,267.70 L251.80,267.70 L252.30,267.69 L252.80,267.69 L253.30,267.69 L253.80,267.69 L254.30,267.69 L254.80,267.68 L255.30,267.68 L255.80,267.68 L256.30,267.68 L256.80,267.67 L257.30,267.67 L257.80,267.67 L258.30,267.67 L258.80,267.66 L259.30,267.66 L259.80,267.66 L260.30,267.66 L260.80,267.66 L261.30,267.65 L261.80,267.65 L262.30,267.65 L262.80,267.65 L263.30,267.64 L263.80,267.64 L264.30,267.64 L264.80,267.63 L265.30,267.63 L265.80,267.63 L266.30,267.63 L266.80,267.62 L267.30,267.62 L267.80,267.62 L268.30,267.62 L268.80,267.61 L269.30,267.61 L269.80,267.61 L270.30,267.60 L270.80,267.60 L271.30,267.60 L271.80,267.60 L272.30,267.59 L272.80,267.59 L273.30,267.59 L273.80,267.58 L274.30,267.58 L274.80,267.58 L275.30,267.57 L275.80,267.57 L276.30,267.57 L276.80,267.56 L277.30,267.56 L277.80,267.56 L278.30,267.55 L278.80,267.55 L279.30,267.55 L279.80,267.54 L280.30,267.54 L280.80,267.53 L281.30,267.53 L281.80,267.53 L282.30,267.52 L282.80,267.52 L283.30,267.52 L283.80,267.51 L284.30,267.51 L284.80,267.50 L285.30,267.50 L285.80,267.50 L286.30,267.49 L286.80,267.49 L287.30,267.48 L287.80,267.48 L288.30,267.48 L288.80,267.47 L289.30,267.47 L289.80,267.46 L290.30,267.46 L290.80,267.45 L291.30,267.45 L291.80,267.44 L292.30,267.44 L292.80,267.44 L293.30,267.43 L293.80,267.43 L294.30,267.42 L294.80,267.42 L295.30,267.41 L295.80,267.41 L296.30,267.40 L296.80,267.40 L297.30,267.39 L297.80,267.39 L298.30,267.38 L298.80,267.37 L299.30,267.37 L299.80,267.36 L300.30,267.36 L300.80,267.35 L301.30,267.35 L301.80,267.34 L302.30,267.34 L302.80,267.33 L303.30,267.32 L303.80,267.32 L304.30,267.31 L304.80,267.31 L305.30,267.30 L305.80,267.29 L306.30,267.29 L306.80,267.28 L307.30,267.27 L307.80,267.27 L308.30,267.26 L308.80,267.25 L309.30,267.25 L309.80,267.24 L310.30,267.23 L310.80,267.22 L311.30,267.22 L311.80,267.21 L312.30,267.20 L312.80,267.19 L313.30,267.19 L313.80,267.18 L314.30,267.17 L314.80,267.16 L315.30,267.15 L315.80,267.14 L316.30,267.13 L316.80,267.12 L317.30,267.12 L317.80,267.11 L318.30,267.10 L318.80,267.09 L319.30,267.08 L319.80,267.06 L320.30,267.05 L320.80,267.04 L321.30,267.03 L321.80,267.02 L322.30,267.01 L322.80,266.99 L323.30,266.98 L323.80,266.97 L324.30,266.95 L324.80,266.94 L325.30,266.93 L325.80,266.91 L326.30,266.89 L326.80,266.88 L327.30,266.86 L327.80,266.84 L328.30,266.83 L328.80,266.81 L329.30,266.79 L329.80,266.77 L330.30,266.74 L330.80,266.72 L331.30,266.70 L331.80,266.67 L332.30,266.65 L332.80,266.62 L333.30,266.59 L333.80,266.56 L334.30,266.53 L334.80,266.49 L335.30,266.46 L335.80,266.42 L336.30,266.38 L336.80,266.34 L337.30,266.30 L337.80,266.25 L338.30,266.20 L338.80,266.15 L339.30,266.09 L339.80,266.03 L340.30,265.97 L340.80,265.91 L341.30,265.84 L341.80,265.76 L342.30,265.68 L342.80,265.60 L343.30,265.51 L343.80,265.41 L344.30,265.31 L344.80,265.20 L345.30,265.09 L345.80,264.96 L346.30,264.83 L346.80,264.69 L347.30,264.54 L347.80,264.38 L348.30,264.21 L348.80,264.02 L349.30,263.83 L349.80,263.62 L350.30,263.39 L350.80,263.15 L351.30,262.90 L351.80,262.62 L352.30,262.33 L352.80,262.01 L353.30,261.68 L353.80,261.32 L354.30,260.93 L354.80,260.68 L355.30,261.09 L355.80,261.46 L356.30,261.82 L356.80,262.14 L357.30,262.45 L357.80,262.74 L358.30,263.00 L358.80,263.25 L359.30,263.49 L359.80,263.70 L360.30,263.91 L360.80,264.10 L361.30,264.28 L361.80,264.44 L362.30,264.60 L362.80,264.75 L363.30,264.88 L363.80,265.01 L364.30,265.13 L364.80,265.25 L365.30,265.35 L365.80,265.45 L366.30,265.54 L366.80,265.63 L367.30,265.71 L367.80,265.79 L368.30,265.86 L368.80,265.93 L369.30,266.00 L369.80,266.06 L370.30,266.12 L370.80,266.17 L371.30,266.22 L371.80,266.27 L372.30,266.31 L372.80,266.36 L373.30,266.40 L373.80,266.44 L374.30,266.47 L374.80,266.51 L375.30,266.54 L375.80,266.57 L376.30,266.60 L376.80,266.63 L377.30,266.66 L377.80,266.68 L378.30,266.71 L378.80,266.73 L379.30,266.75 L379.80,266.77 L380.30,266.79 L380.80,266.81 L381.30,266.83 L381.80,266.85 L382.30,266.87 L382.80,266.88 L383.30,266.90 L383.80,266.92 L384.30,266.93 L384.80,266.95 L385.30,266.96 L385.80,266.97 L386.30,266.99 L386.80,267.00 L387.30,267.01 L387.80,267.02 L388.30,267.04 L388.80,267.05 L389.30,267.06 L389.80,267.07 L390.30,267.08 L390.80,267.09 L391.30,267.10 L391.80,267.11 L392.30,267.12 L392.80,267.13 L393.30,267.14 L393.80,267.15 L394.30,267.16 L394.80,267.16 L395.30,267.17 L395.80,267.18 L396.30,267.19 L396.80,267.20 L397.30,267.20 L397.80,267.21 L398.30,267.22 L398.80,267.23 L399.30,267.23 L399.80,267.24 L400.30,267.25 L400.80,267.26 L401.30,267.26 L401.80,267.27 L402.30,267.28 L402.80,267.28 L403.30,267.29 L403.80,267.30 L404.30,267.30 L404.80,267.31 L405.30,267.31 L405.80,267.32 L406.30,267.33 L406.80,267.33 L407.30,267.34 L407.80,267.34 L408.30,267.35 L408.80,267.36 L409.30,267.36 L409.80,267.37 L410.30,267.37 L410.80,267.38 L411.30,267.38 L411.80,267.39 L412.30,267.39 L412.80,267.40 L413.30,267.40 L413.80,267.41 L414.30,267.41 L414.80,267.42 L415.30,267.42 L415.80,267.43 L416.30,267.43 L416.80,267.44 L417.30,267.44 L417.80,267.45 L418.30,267.45 L418.80,267.46 L419.30,267.46 L419.80,267.46 L420.30,267.47 L420.80,267.47 L421.30,267.48 L421.80,267.48 L422.30,267.49 L422.80,267.49 L423.30,267.49 L423.80,267.50 L424.30,267.50 L424.80,267.51 L425.30,267.51 L425.80,267.51 L426.30,267.52 L426.80,267.52 L427.30,267.53 L427.80,267.53 L428.30,267.53 L428.80,267.54 L429.30,267.54 L429.80,267.54 L430.30,267.55 L430.80,267.55 L431.30,267.55 L431.80,267.56 L432.30,267.56 L432.80,267.56 L433.30,267.57 L433.80,267.57 L434.30,267.57 L434.80,267.58 L435.30,267.58 L435.80,267.58 L436.30,267.59 L436.80,267.59 L437.30,267.59 L437.80,267.60 L438.30,267.60 L438.80,267.60 L439.30,267.61 L439.80,267.61 L440.30,267.61 L440.80,267.61 L441.30,267.62 L441.80,267.62 L442.30,267.62 L442.80,267.63 L443.30,267.63 L443.80,267.63 L444.30,267.63 L444.80,267.64 L445.30,267.64 L445.80,267.64 L446.30,267.64 L446.80,267.65 L447.30,267.65 L447.80,267.65 L448.30,267.65 L448.80,267.66 L449.30,267.66 L449.80,267.66 L450.30,267.66 L450.80,267.67 L451.30,267.67 L451.80,267.67 L452.30,267.67 L452.80,267.68 L453.30,267.68 L453.80,267.68 L454.30,267.68 L454.80,267.68 L455.30,267.69 L455.80,267.69 L456.30,267.69 L456.80,267.69 L457.30,267.69 L457.80,267.70 L458.30,267.70 L458.80,267.70 L459.30,267.70 L459.80,267.70 L460.30,267.71" fill="none" stroke="#0000ff" stroke-width="2.2" stroke-dasharray="7 3" />
<path d="M251.30,240.85 L251.80,240.84 L252.30,240.84 L252.80,240.83 L253.30,240.82 L253.80,240.81 L254.30,240.80 L254.80,240.79 L255.30,240.78 L255.80,240.77 L256.30,240.77 L256.80,240.76 L257.30,240.75 L257.80,240.74 L258.30,240.73 L258.80,240.72 L259.30,240.71 L259.80,240.70 L260.30,240.69 L260.80,240.68 L261.30,240.67 L261.80,240.65 L262.30,240.64 L262.80,240.63 L263.30,240.62 L263.80,240.61 L264.30,240.60 L264.80,240.59 L265.30,240.57 L265.80,240.56 L266.30,240.55 L266.80,240.54 L267.30,240.52 L267.80,240.51 L268.30,240.50 L268.80,240.48 L269.30,240.47 L269.80,240.46 L270.30,240.44 L270.80,240.43 L271.30,240.41 L271.80,240.40 L272.30,240.39 L272.80,240.37 L273.30,240.35 L273.80,240.34 L274.30,240.32 L274.80,240.31 L275.30,240.29 L275.80,240.28 L276.30,240.26 L276.80,240.24 L277.30,240.22 L277.80,240.21 L278.30,240.19 L278.80,240.17 L279.30,240.15 L279.80,240.14 L280.30,240.12 L280.80,240.10 L281.30,240.08 L281.80,240.06 L282.30,240.04 L282.80,240.02 L283.30,240.00 L283.80,239.98 L284.30,239.96 L284.80,239.94 L285.30,239.91 L285.80,239.89 L286.30,239.87 L286.80,239.85 L287.30,239.82 L287.80,239.80 L288.30,239.78 L288.80,239.75 L289.30,239.73 L289.80,239.70 L290.30,239.68 L290.80,239.65 L291.30,239.63 L291.80,239.60 L292.30,239.58 L292.80,239.55 L293.30,239.52 L293.80,239.49 L294.30,239.47 L294.80,239.44 L295.30,239.41 L295.80,239.38 L296.30,239.35 L296.80,239.32 L297.30,239.29 L297.80,239.26 L298.30,239.23 L298.80,239.19 L299.30,239.16 L299.80,239.13 L300.30,239.09 L300.80,239.06 L301.30,239.03 L301.80,238.99 L302.30,238.96 L302.80,238.92 L303.30,238.88 L303.80,238.85 L304.30,238.81 L304.80,238.77 L305.30,238.73 L305.80,238.69 L306.30,238.65 L306.80,238.61 L307.30,238.57 L307.80,238.53 L308.30,238.49 L308.80,238.44 L309.30,238.40 L309.80,238.36 L310.30,238.31 L310.80,238.27 L311.30,238.22 L311.80,238.17 L312.30,238.13 L312.80,238.08 L313.30,238.03 L313.80,237.98 L314.30,237.93 L314.80,237.88 L315.30,237.83 L315.80,237.77 L316.30,237.72 L316.80,237.67 L317.30,237.61 L317.80,237.56 L318.30,237.50 L318.80,237.44 L319.30,237.39 L319.80,237.33 L320.30,237.27 L320.80,237.21 L321.30,237.15 L321.80,237.08 L322.30,237.02 L322.80,236.96 L323.30,236.89 L323.80,236.83 L324.30,236.76 L324.80,236.69 L325.30,236.62 L325.80,236.55 L326.30,236.48 L326.80,236.41 L327.30,236.34 L327.80,236.26 L328.30,236.19 L328.80,236.11 L329.30,236.04 L329.80,235.96 L330.30,235.88 L330.80,235.80 L331.30,235.72 L331.80,235.64 L332.30,235.56 L332.80,235.47 L333.30,235.39 L333.80,235.30 L334.30,235.21 L334.80,235.13 L335.30,235.04 L335.80,234.95 L336.30,234.85 L336.80,234.76 L337.30,234.67 L337.80,234.57 L338.30,234.48 L338.80,234.38 L339.30,234.28 L339.80,234.18 L340.30,234.08 L340.80,233.98 L341.30,233.88 L341.80,233.78 L342.30,233.67 L342.80,233.57 L343.30,233.46 L343.80,233.36 L344.30,233.25 L344.80,233.15 L345.30,233.04 L345.80,232.93 L346.30,232.83 L346.80,232.72 L347.30,232.62 L347.80,232.51 L348.30,232.41 L348.80,232.31 L349.30,232.22 L349.80,232.12 L350.30,232.04 L350.80,231.95 L351.30,231.87 L351.80,231.80 L352.30,231.74 L352.80,231.69 L353.30,231.65 L353.80,231.62 L354.30,231.60 L354.80,231.60 L355.30,231.61 L355.80,231.63 L356.30,231.66 L356.80,231.71 L357.30,231.77 L357.80,231.83 L358.30,231.90 L358.80,231.98 L359.30,232.07 L359.80,232.16 L360.30,232.26 L360.80,232.35 L361.30,232.45 L361.80,232.56 L362.30,232.66 L362.80,232.76 L363.30,232.87 L363.80,232.98 L364.30,233.08 L364.80,233.19 L365.30,233.29 L365.80,233.40 L366.30,233.50 L366.80,233.61 L367.30,233.71 L367.80,233.82 L368.30,233.92 L368.80,234.02 L369.30,234.12 L369.80,234.22 L370.30,234.32 L370.80,234.42 L371.30,234.51 L371.80,234.61 L372.30,234.70 L372.80,234.80 L373.30,234.89 L373.80,234.98 L374.30,235.07 L374.80,235.16 L375.30,235.25 L375.80,235.34 L376.30,235.42 L376.80,235.51 L377.30,235.59 L377.80,235.67 L378.30,235.75 L378.80,235.83 L379.30,235.91 L379.80,235.99 L380.30,236.07 L380.80,236.14 L381.30,236.22 L381.80,236.29 L382.30,236.37 L382.80,236.44 L383.30,236.51 L383.80,236.58 L384.30,236.65 L384.80,236.72 L385.30,236.79 L385.80,236.85 L386.30,236.92 L386.80,236.98 L387.30,237.05 L387.80,237.11 L388.30,237.17 L388.80,237.23 L389.30,237.29 L389.80,237.35 L390.30,237.41 L390.80,237.47 L391.30,237.52 L391.80,237.58 L392.30,237.63 L392.80,237.69 L393.30,237.74 L393.80,237.79 L394.30,237.85 L394.80,237.90 L395.30,237.95 L395.80,238.00 L396.30,238.05 L396.80,238.10 L397.30,238.14 L397.80,238.19 L398.30,238.24 L398.80,238.28 L399.30,238.33 L399.80,238.37 L400.30,238.42 L400.80,238.46 L401.30,238.50 L401.80,238.55 L402.30,238.59 L402.80,238.63 L403.30,238.67 L403.80,238.71 L404.30,238.75 L404.80,238.79 L405.30,238.82 L405.80,238.86 L406.30,238.90 L406.80,238.93 L407.30,238.97 L407.80,239.00 L408.30,239.04 L408.80,239.07 L409.30,239.11 L409.80,239.14 L410.30,239.17 L410.80,239.21 L411.30,239.24 L411.80,239.27 L412.30,239.30 L412.80,239.33 L413.30,239.36 L413.80,239.39 L414.30,239.42 L414.80,239.45 L415.30,239.48 L415.80,239.50 L416.30,239.53 L416.80,239.56 L417.30,239.59 L417.80,239.61 L418.30,239.64 L418.80,239.66 L419.30,239.69 L419.80,239.71 L420.30,239.74 L420.80,239.76 L421.30,239.79 L421.80,239.81 L422.30,239.83 L422.80,239.86 L423.30,239.88 L423.80,239.90 L424.30,239.92 L424.80,239.94 L425.30,239.97 L425.80,239.99 L426.30,240.01 L426.80,240.03 L427.30,240.05 L427.80,240.07 L428.30,240.09 L428.80,240.11 L429.30,240.12 L429.80,240.14 L430.30,240.16 L430.80,240.18 L431.30,240.20 L431.80,240.21 L432.30,240.23 L432.80,240.25 L433.30,240.27 L433.80,240.28 L434.30,240.30 L434.80,240.31 L435.30,240.33 L435.80,240.35 L436.30,240.36 L436.80,240.38 L437.30,240.39 L437.80,240.41 L438.30,240.42 L438.80,240.43 L439.30,240.45 L439.80,240.46 L440.30,240.48 L440.80,240.49 L441.30,240.50 L441.80,240.52 L442.30,240.53 L442.80,240.54 L443.30,240.55 L443.80,240.57 L444.30,240.58 L444.80,240.59 L445.30,240.60 L445.80,240.61 L446.30,240.63 L446.80,240.64 L447.30,240.65 L447.80,240.66 L448.30,240.67 L448.80,240.68 L449.30,240.69 L449.80,240.70 L450.30,240.71 L450.80,240.72 L451.30,240.73 L451.80,240.74 L452.30,240.75 L452.80,240.76 L453.30,240.77 L453.80,240.78 L454.30,240.79 L454.80,240.80 L455.30,240.81 L455.80,240.81 L456.30,240.82 L456.80,240.83 L457.30,240.84 L457.80,240.85 L458.30,240.86 L458.80,240.86 L459.30,240.87 L459.80,240.88 L460.30,240.89" fill="none" stroke="#ff0000" stroke-width="2.3" />
<rect x="248.2" y="216.4" width="215.40000000000003" height="66.20000000000002" fill="none" stroke="#222" stroke-width="1.3"/>
<path d="M354.7,216.4v3M354.7,282.6v-3" stroke="#000" stroke-width="1"/>
<path d="M354.7,291.6V361.4" stroke="#e0e0e0" stroke-width="1"/>
<path d="M347.30,360.20L347.27,358.20M347.24,356.45L347.20,354.50M347.17,352.76L347.14,350.81M347.11,349.06L347.08,347.11M347.05,345.36L347.01,343.41M346.98,341.67L346.95,339.72M346.92,337.97L346.88,336.02M346.85,334.27L346.82,332.27M346.79,330.58L346.76,328.58M346.73,326.88L346.69,324.88M346.66,323.18L346.63,321.18M346.60,319.48L346.57,317.49M346.54,315.79L346.50,313.79M346.47,312.09L346.44,310.09M346.41,308.39L346.38,306.40M346.35,304.70L346.31,302.70M346.19,302.98L345.96,304.93M345.75,306.66L345.51,308.63M345.31,310.30L345.06,312.25M344.83,313.93L344.56,315.91M344.31,317.55L344.00,319.51M343.71,321.16L343.32,323.08M342.91,324.71L342.40,326.57M341.92,328.15L341.32,329.95M340.75,331.46L340.01,333.18M339.30,334.60L338.38,336.15M337.52,337.40L336.49,338.75M335.52,339.88L334.36,341.08M333.34,342.04L332.12,343.08M331.05,343.96L329.76,344.95M328.66,345.74L327.34,346.59M326.22,347.25L324.84,347.98M323.68,348.57L322.30,349.24M321.13,349.79L319.76,350.41M318.55,350.92L317.18,351.47M315.97,351.91L314.55,352.38M313.34,352.74L311.93,353.09M310.68,353.37L309.26,353.68M308.01,353.94L306.55,354.22M305.34,354.45L303.88,354.71M302.63,354.92L301.22,355.15M299.97,355.34L298.51,355.56M297.26,355.74L295.84,355.93M294.59,356.09L293.13,356.26M291.88,356.41L290.47,356.57M289.22,356.70L287.76,356.85M286.51,356.97L285.09,357.10M283.84,357.21L282.38,357.34M281.13,357.45L279.68,357.58M278.43,357.68L277.01,357.80M275.72,357.91L274.30,358.02M273.05,358.11L271.59,358.22M270.34,358.31L268.88,358.41M267.63,358.50L266.22,358.59M264.97,358.67L263.51,358.75M262.26,358.82L260.80,358.90M259.55,358.97L258.13,359.03M256.84,359.09L255.43,359.15M254.18,359.19L252.72,359.24M251.47,359.28L251.30,359.28" fill="none" stroke="#00ff00" stroke-width="2.4"/>
<path d="M347.30,360.20L348.75,360.20M350.05,360.20L351.45,360.20M352.75,360.20L354.15,360.20M355.40,360.20L356.85,360.20M358.15,360.20L359.55,360.20M360.85,360.20L361.80,360.20" fill="none" stroke="#00ff00" stroke-width="2.4"/>
<path d="M362.10,360.20L362.13,358.20M362.16,356.45L362.20,354.50M362.23,352.76L362.26,350.81M362.29,349.06L362.32,347.11M362.35,345.36L362.39,343.41M362.42,341.67L362.45,339.72M362.48,337.97L362.52,336.02M362.55,334.27L362.58,332.27M362.61,330.58L362.64,328.58M362.67,326.88L362.71,324.88M362.74,323.18L362.77,321.18M362.80,319.48L362.83,317.49M362.86,315.79L362.90,313.79M362.93,312.09L362.96,310.09M362.99,308.39L363.02,306.40M363.05,304.70L363.09,302.70M363.21,302.98L363.44,304.93M363.65,306.66L363.89,308.63M364.09,310.30L364.34,312.25M364.57,313.93L364.84,315.91M365.09,317.55L365.40,319.51M365.69,321.16L366.08,323.08M366.49,324.71L367.00,326.57M367.48,328.15L368.08,329.95M368.65,331.46L369.39,333.18M370.10,334.60L371.02,336.15M371.88,337.40L372.91,338.75M373.88,339.88L375.04,341.08M376.06,342.04L377.28,343.08M378.35,343.96L379.64,344.95M380.74,345.74L382.06,346.59M383.18,347.25L384.56,347.98M385.72,348.57L387.10,349.24M388.27,349.79L389.64,350.41M390.85,350.92L392.22,351.47M393.43,351.91L394.85,352.38M396.06,352.74L397.47,353.09M398.72,353.37L400.14,353.68M401.39,353.94L402.85,354.22M404.06,354.45L405.52,354.71M406.77,354.92L408.18,355.15M409.43,355.34L410.89,355.56M412.14,355.74L413.56,355.93M414.81,356.09L416.27,356.26M417.52,356.41L418.93,356.57M420.18,356.70L421.64,356.85M422.89,356.97L424.31,357.10M425.56,357.21L427.02,357.34M428.27,357.45L429.72,357.58M430.97,357.68L432.39,357.80M433.68,357.91L435.10,358.02M436.35,358.11L437.81,358.22M439.06,358.31L440.52,358.41M441.77,358.50L443.18,358.59M444.43,358.67L445.89,358.75M447.14,358.82L448.60,358.90M449.85,358.97L451.27,359.03M452.56,359.09L453.97,359.15M455.22,359.19L456.68,359.24M457.93,359.28L459.39,359.32" fill="none" stroke="#00ff00" stroke-width="2.4"/>
<path d="M251.30,360.09 L251.80,360.09 L252.30,360.09 L252.80,360.09 L253.30,360.09 L253.80,360.08 L254.30,360.08 L254.80,360.08 L255.30,360.08 L255.80,360.08 L256.30,360.07 L256.80,360.07 L257.30,360.07 L257.80,360.07 L258.30,360.06 L258.80,360.06 L259.30,360.06 L259.80,360.06 L260.30,360.05 L260.80,360.05 L261.30,360.05 L261.80,360.04 L262.30,360.04 L262.80,360.04 L263.30,360.03 L263.80,360.03 L264.30,360.03 L264.80,360.02 L265.30,360.02 L265.80,360.01 L266.30,360.01 L266.80,360.01 L267.30,360.00 L267.80,360.00 L268.30,359.99 L268.80,359.99 L269.30,359.98 L269.80,359.98 L270.30,359.97 L270.80,359.97 L271.30,359.96 L271.80,359.96 L272.30,359.95 L272.80,359.95 L273.30,359.94 L273.80,359.94 L274.30,359.93 L274.80,359.92 L275.30,359.92 L275.80,359.91 L276.30,359.91 L276.80,359.90 L277.30,359.89 L277.80,359.89 L278.30,359.88 L278.80,359.87 L279.30,359.87 L279.80,359.86 L280.30,359.85 L280.80,359.85 L281.30,359.84 L281.80,359.83 L282.30,359.83 L282.80,359.82 L283.30,359.81 L283.80,359.80 L284.30,359.80 L284.80,359.79 L285.30,359.78 L285.80,359.77 L286.30,359.76 L286.80,359.76 L287.30,359.75 L287.80,359.74 L288.30,359.73 L288.80,359.72 L289.30,359.72 L289.80,359.71 L290.30,359.70 L290.80,359.69 L291.30,359.68 L291.80,359.67 L292.30,359.66 L292.80,359.65 L293.30,359.64 L293.80,359.63 L294.30,359.62 L294.80,359.61 L295.30,359.60 L295.80,359.60 L296.30,359.59 L296.80,359.58 L297.30,359.57 L297.80,359.55 L298.30,359.54 L298.80,359.53 L299.30,359.52 L299.80,359.51 L300.30,359.50 L300.80,359.49 L301.30,359.48 L301.80,359.47 L302.30,359.46 L302.80,359.45 L303.30,359.44 L303.80,359.43 L304.30,359.41 L304.80,359.40 L305.30,359.39 L305.80,359.38 L306.30,359.36 L306.80,359.34 L307.30,359.32 L307.80,359.30 L308.30,359.28 L308.80,359.26 L309.30,359.23 L309.80,359.20 L310.30,359.18 L310.80,359.15 L311.30,359.11 L311.80,359.08 L312.30,359.05 L312.80,359.01 L313.30,358.97 L313.80,358.94 L314.30,358.90 L314.80,358.85 L315.30,358.81 L315.80,358.77 L316.30,358.72 L316.80,358.68 L317.30,358.63 L317.80,358.58 L318.30,358.54 L318.80,358.49 L319.30,358.44 L319.80,358.38 L320.30,358.33 L320.80,358.28 L321.30,358.22 L321.80,358.17 L322.30,358.11 L322.80,358.06 L323.30,358.00 L323.80,357.94 L324.30,357.88 L324.80,357.82 L325.30,357.76 L325.80,357.70 L326.30,357.64 L326.80,357.57 L327.30,357.51 L327.80,357.44 L328.30,357.37 L328.80,357.29 L329.30,357.22 L329.80,357.14 L330.30,357.06 L330.80,356.97 L331.30,356.88 L331.80,356.79 L332.30,356.69 L332.80,356.59 L333.30,356.49 L333.80,356.38 L334.30,356.27 L334.80,356.15 L335.30,356.03 L335.80,355.90 L336.30,355.77 L336.80,355.63 L337.30,355.49 L337.80,355.34 L338.30,355.18 L338.80,355.02 L339.30,354.85 L339.80,354.68 L340.30,354.50 L340.80,354.32 L341.30,354.12 L341.80,353.89 L342.30,353.62 L342.80,353.31 L343.30,352.96 L343.80,352.57 L344.30,352.13 L344.80,351.65 L345.30,351.13 L345.80,350.56 L346.30,349.93 L346.80,349.05 L347.30,347.93 L347.80,346.64 L348.30,345.24 L348.80,343.79 L349.30,342.34 L349.80,340.97 L350.30,339.70 L350.80,338.38 L351.30,337.01 L351.80,335.68 L352.30,334.45 L352.80,333.38 L353.30,332.55 L353.80,331.88 L354.30,331.34 L354.80,331.07 L355.30,331.54 L355.80,332.14 L356.30,332.85 L356.80,333.78 L357.30,334.92 L357.80,336.20 L358.30,337.56 L358.80,338.91 L359.30,340.20 L359.80,341.50 L360.30,342.91 L360.80,344.37 L361.30,345.81 L361.80,347.18 L362.30,348.40 L362.80,349.43 L363.30,350.20 L363.80,350.80 L364.30,351.34 L364.80,351.85 L365.30,352.31 L365.80,352.73 L366.30,353.11 L366.80,353.44 L367.30,353.73 L367.80,353.99 L368.30,354.20 L368.80,354.39 L369.30,354.57 L369.80,354.75 L370.30,354.92 L370.80,355.09 L371.30,355.24 L371.80,355.40 L372.30,355.54 L372.80,355.68 L373.30,355.82 L373.80,355.95 L374.30,356.08 L374.80,356.20 L375.30,356.31 L375.80,356.42 L376.30,356.53 L376.80,356.63 L377.30,356.73 L377.80,356.83 L378.30,356.92 L378.80,357.00 L379.30,357.09 L379.80,357.17 L380.30,357.25 L380.80,357.32 L381.30,357.40 L381.80,357.47 L382.30,357.53 L382.80,357.60 L383.30,357.66 L383.80,357.73 L384.30,357.79 L384.80,357.85 L385.30,357.91 L385.80,357.96 L386.30,358.02 L386.80,358.08 L387.30,358.14 L387.80,358.19 L388.30,358.25 L388.80,358.30 L389.30,358.35 L389.80,358.40 L390.30,358.46 L390.80,358.51 L391.30,358.56 L391.80,358.60 L392.30,358.65 L392.80,358.70 L393.30,358.74 L393.80,358.79 L394.30,358.83 L394.80,358.87 L395.30,358.91 L395.80,358.95 L396.30,358.99 L396.80,359.03 L397.30,359.06 L397.80,359.09 L398.30,359.13 L398.80,359.16 L399.30,359.19 L399.80,359.22 L400.30,359.24 L400.80,359.27 L401.30,359.29 L401.80,359.31 L402.30,359.33 L402.80,359.35 L403.30,359.37 L403.80,359.38 L404.30,359.40 L404.80,359.41 L405.30,359.42 L405.80,359.43 L406.30,359.44 L406.80,359.45 L407.30,359.46 L407.80,359.47 L408.30,359.49 L408.80,359.50 L409.30,359.51 L409.80,359.52 L410.30,359.53 L410.80,359.54 L411.30,359.55 L411.80,359.56 L412.30,359.57 L412.80,359.58 L413.30,359.59 L413.80,359.60 L414.30,359.61 L414.80,359.62 L415.30,359.63 L415.80,359.64 L416.30,359.65 L416.80,359.66 L417.30,359.67 L417.80,359.67 L418.30,359.68 L418.80,359.69 L419.30,359.70 L419.80,359.71 L420.30,359.72 L420.80,359.73 L421.30,359.74 L421.80,359.74 L422.30,359.75 L422.80,359.76 L423.30,359.77 L423.80,359.78 L424.30,359.78 L424.80,359.79 L425.30,359.80 L425.80,359.81 L426.30,359.81 L426.80,359.82 L427.30,359.83 L427.80,359.84 L428.30,359.84 L428.80,359.85 L429.30,359.86 L429.80,359.86 L430.30,359.87 L430.80,359.88 L431.30,359.88 L431.80,359.89 L432.30,359.90 L432.80,359.90 L433.30,359.91 L433.80,359.91 L434.30,359.92 L434.80,359.93 L435.30,359.93 L435.80,359.94 L436.30,359.94 L436.80,359.95 L437.30,359.95 L437.80,359.96 L438.30,359.96 L438.80,359.97 L439.30,359.97 L439.80,359.98 L440.30,359.98 L440.80,359.99 L441.30,359.99 L441.80,360.00 L442.30,360.00 L442.80,360.01 L443.30,360.01 L443.80,360.02 L444.30,360.02 L444.80,360.02 L445.30,360.03 L445.80,360.03 L446.30,360.03 L446.80,360.04 L447.30,360.04 L447.80,360.04 L448.30,360.05 L448.80,360.05 L449.30,360.05 L449.80,360.06 L450.30,360.06 L450.80,360.06 L451.30,360.07 L451.80,360.07 L452.30,360.07 L452.80,360.07 L453.30,360.07 L453.80,360.08 L454.30,360.08 L454.80,360.08 L455.30,360.08 L455.80,360.08 L456.30,360.09 L456.80,360.09 L457.30,360.09 L457.80,360.09 L458.30,360.09 L458.80,360.09 L459.30,360.09 L459.80,360.10 L460.30,360.10" fill="none" stroke="#0000ff" stroke-width="2.2" stroke-dasharray="7 3" />
<path d="M251.30,360.98 L251.80,360.98 L252.30,360.97 L252.80,360.97 L253.30,360.97 L253.80,360.96 L254.30,360.96 L254.80,360.95 L255.30,360.95 L255.80,360.94 L256.30,360.94 L256.80,360.93 L257.30,360.93 L257.80,360.92 L258.30,360.91 L258.80,360.91 L259.30,360.90 L259.80,360.89 L260.30,360.89 L260.80,360.88 L261.30,360.87 L261.80,360.86 L262.30,360.86 L262.80,360.85 L263.30,360.84 L263.80,360.83 L264.30,360.82 L264.80,360.81 L265.30,360.80 L265.80,360.79 L266.30,360.78 L266.80,360.77 L267.30,360.76 L267.80,360.75 L268.30,360.74 L268.80,360.73 L269.30,360.72 L269.80,360.70 L270.30,360.69 L270.80,360.68 L271.30,360.67 L271.80,360.65 L272.30,360.64 L272.80,360.63 L273.30,360.62 L273.80,360.60 L274.30,360.59 L274.80,360.57 L275.30,360.56 L275.80,360.54 L276.30,360.53 L276.80,360.51 L277.30,360.50 L277.80,360.48 L278.30,360.47 L278.80,360.45 L279.30,360.43 L279.80,360.42 L280.30,360.40 L280.80,360.38 L281.30,360.37 L281.80,360.35 L282.30,360.33 L282.80,360.31 L283.30,360.30 L283.80,360.28 L284.30,360.26 L284.80,360.24 L285.30,360.22 L285.80,360.20 L286.30,360.18 L286.80,360.16 L287.30,360.14 L287.80,360.12 L288.30,360.10 L288.80,360.08 L289.30,360.06 L289.80,360.03 L290.30,360.01 L290.80,359.99 L291.30,359.97 L291.80,359.95 L292.30,359.92 L292.80,359.90 L293.30,359.88 L293.80,359.85 L294.30,359.83 L294.80,359.80 L295.30,359.78 L295.80,359.74 L296.30,359.70 L296.80,359.66 L297.30,359.60 L297.80,359.55 L298.30,359.48 L298.80,359.42 L299.30,359.34 L299.80,359.27 L300.30,359.19 L300.80,359.11 L301.30,359.02 L301.80,358.94 L302.30,358.85 L302.80,358.77 L303.30,358.68 L303.80,358.59 L304.30,358.50 L304.80,358.42 L305.30,358.33 L305.80,358.24 L306.30,358.15 L306.80,358.06 L307.30,357.96 L307.80,357.86 L308.30,357.76 L308.80,357.66 L309.30,357.55 L309.80,357.45 L310.30,357.33 L310.80,357.22 L311.30,357.11 L311.80,356.99 L312.30,356.87 L312.80,356.75 L313.30,356.63 L313.80,356.51 L314.30,356.38 L314.80,356.25 L315.30,356.12 L315.80,355.99 L316.30,355.85 L316.80,355.72 L317.30,355.58 L317.80,355.43 L318.30,355.29 L318.80,355.14 L319.30,354.99 L319.80,354.83 L320.30,354.67 L320.80,354.51 L321.30,354.34 L321.80,354.17 L322.30,354.00 L322.80,353.82 L323.30,353.64 L323.80,353.46 L324.30,353.27 L324.80,353.08 L325.30,352.88 L325.80,352.68 L326.30,352.47 L326.80,352.26 L327.30,352.04 L327.80,351.82 L328.30,351.59 L328.80,351.35 L329.30,351.11 L329.80,350.86 L330.30,350.61 L330.80,350.35 L331.30,350.08 L331.80,349.81 L332.30,349.53 L332.80,349.24 L333.30,348.95 L333.80,348.65 L334.30,348.34 L334.80,348.03 L335.30,347.70 L335.80,347.36 L336.30,347.00 L336.80,346.62 L337.30,346.23 L337.80,345.82 L338.30,345.40 L338.80,344.96 L339.30,344.52 L339.80,344.07 L340.30,343.62 L340.80,343.15 L341.30,342.69 L341.80,342.22 L342.30,341.75 L342.80,341.29 L343.30,340.82 L343.80,340.36 L344.30,339.91 L344.80,339.46 L345.30,339.02 L345.80,338.54 L346.30,338.03 L346.80,337.49 L347.30,336.95 L347.80,336.41 L348.30,335.88 L348.80,335.39 L349.30,334.93 L349.80,334.53 L350.30,334.20 L350.80,333.94 L351.30,333.77 L351.80,333.64 L352.30,333.52 L352.80,333.41 L353.30,333.32 L353.80,333.25 L354.30,333.21 L354.80,333.20 L355.30,333.22 L355.80,333.28 L356.30,333.35 L356.80,333.45 L357.30,333.57 L357.80,333.69 L358.30,333.83 L358.80,334.03 L359.30,334.32 L359.80,334.68 L360.30,335.11 L360.80,335.58 L361.30,336.09 L361.80,336.62 L362.30,337.17 L362.80,337.71 L363.30,338.24 L363.80,338.74 L364.30,339.20 L364.80,339.64 L365.30,340.09 L365.80,340.55 L366.30,341.01 L366.80,341.47 L367.30,341.94 L367.80,342.41 L368.30,342.88 L368.80,343.34 L369.30,343.80 L369.80,344.25 L370.30,344.70 L370.80,345.14 L371.30,345.57 L371.80,345.98 L372.30,346.39 L372.80,346.77 L373.30,347.15 L373.80,347.50 L374.30,347.84 L374.80,348.15 L375.30,348.46 L375.80,348.77 L376.30,349.07 L376.80,349.36 L377.30,349.64 L377.80,349.92 L378.30,350.19 L378.80,350.45 L379.30,350.71 L379.80,350.96 L380.30,351.20 L380.80,351.44 L381.30,351.68 L381.80,351.91 L382.30,352.13 L382.80,352.34 L383.30,352.55 L383.80,352.76 L384.30,352.96 L384.80,353.16 L385.30,353.35 L385.80,353.53 L386.30,353.72 L386.80,353.90 L387.30,354.07 L387.80,354.24 L388.30,354.41 L388.80,354.57 L389.30,354.74 L389.80,354.89 L390.30,355.05 L390.80,355.20 L391.30,355.35 L391.80,355.49 L392.30,355.63 L392.80,355.77 L393.30,355.91 L393.80,356.04 L394.30,356.17 L394.80,356.30 L395.30,356.43 L395.80,356.56 L396.30,356.68 L396.80,356.80 L397.30,356.92 L397.80,357.04 L398.30,357.15 L398.80,357.27 L399.30,357.38 L399.80,357.49 L400.30,357.60 L400.80,357.70 L401.30,357.80 L401.80,357.90 L402.30,358.00 L402.80,358.10 L403.30,358.19 L403.80,358.28 L404.30,358.37 L404.80,358.45 L405.30,358.54 L405.80,358.63 L406.30,358.71 L406.80,358.80 L407.30,358.89 L407.80,358.97 L408.30,359.06 L408.80,359.14 L409.30,359.22 L409.80,359.30 L410.30,359.37 L410.80,359.44 L411.30,359.51 L411.80,359.57 L412.30,359.63 L412.80,359.68 L413.30,359.72 L413.80,359.76 L414.30,359.79 L414.80,359.81 L415.30,359.84 L415.80,359.86 L416.30,359.89 L416.80,359.91 L417.30,359.93 L417.80,359.95 L418.30,359.98 L418.80,360.00 L419.30,360.02 L419.80,360.04 L420.30,360.06 L420.80,360.09 L421.30,360.11 L421.80,360.13 L422.30,360.15 L422.80,360.17 L423.30,360.19 L423.80,360.21 L424.30,360.23 L424.80,360.25 L425.30,360.27 L425.80,360.28 L426.30,360.30 L426.80,360.32 L427.30,360.34 L427.80,360.36 L428.30,360.37 L428.80,360.39 L429.30,360.41 L429.80,360.42 L430.30,360.44 L430.80,360.46 L431.30,360.47 L431.80,360.49 L432.30,360.51 L432.80,360.52 L433.30,360.54 L433.80,360.55 L434.30,360.56 L434.80,360.58 L435.30,360.59 L435.80,360.61 L436.30,360.62 L436.80,360.63 L437.30,360.65 L437.80,360.66 L438.30,360.67 L438.80,360.68 L439.30,360.70 L439.80,360.71 L440.30,360.72 L440.80,360.73 L441.30,360.74 L441.80,360.75 L442.30,360.76 L442.80,360.78 L443.30,360.79 L443.80,360.80 L444.30,360.81 L444.80,360.81 L445.30,360.82 L445.80,360.83 L446.30,360.84 L446.80,360.85 L447.30,360.86 L447.80,360.87 L448.30,360.87 L448.80,360.88 L449.30,360.89 L449.80,360.90 L450.30,360.90 L450.80,360.91 L451.30,360.92 L451.80,360.92 L452.30,360.93 L452.80,360.93 L453.30,360.94 L453.80,360.94 L454.30,360.95 L454.80,360.95 L455.30,360.96 L455.80,360.96 L456.30,360.97 L456.80,360.97 L457.30,360.97 L457.80,360.98 L458.30,360.98 L458.80,360.98 L459.30,360.99 L459.80,360.99 L460.30,360.99" fill="none" stroke="#ff0000" stroke-width="2.3" />
<rect x="248.1" y="291.6" width="215.50000000000003" height="69.79999999999995" fill="none" stroke="#222" stroke-width="1.3"/>
<path d="M354.7,291.6v3M354.7,361.4v-3" stroke="#000" stroke-width="1"/>
<text x="207.5" y="254.5" font-size="26" fill="#000" text-anchor="start" stroke-width="0.35" >(d)</text>
<text x="227.6" y="223.5" font-size="16.2" fill="#000" text-anchor="start" stroke-width="0.25" >0.1</text>
<text x="238.3" y="284.4" font-size="16.2" fill="#000" text-anchor="start" stroke-width="0.25" >0</text>
<text x="226" y="305.7" font-size="16.2" fill="#000" text-anchor="start" stroke-width="0.25" >0.3</text>
<text x="238.3" y="363.1" font-size="16.2" fill="#000" text-anchor="start" stroke-width="0.25" >0</text>
<text x="231.6" y="378.2" font-size="16.5" fill="#000" text-anchor="start" stroke-width="0.25" >–<tspan font-style="italic">N</tspan>/2</text>
<text x="350.6" y="378.2" font-size="16.5" fill="#000" text-anchor="start" stroke-width="0.25" >0</text>
<text x="446" y="378.2" font-size="16.5" fill="#000" text-anchor="start" stroke-width="0.25" ><tspan font-style="italic">N</tspan>/2</text>
<text x="251.7" y="226.4" font-size="10.8"><tspan font-style="italic">r</tspan><tspan font-size="8" dy="2.5">B</tspan><tspan dy="-2.5">= 0</tspan></text>
<text x="251.7" y="302.1" font-size="10.8"><tspan font-style="italic">r</tspan><tspan font-size="8" dy="2.5">B</tspan><tspan dy="-2.5">= 3<tspan font-style="italic">a</tspan></tspan></text>
<text x="460.8" y="226.4" font-size="11.7" fill="#000" text-anchor="end" stroke-width="0.12" >kinematic</text>
<text x="458.3" y="236.3" font-size="11.7" fill="#000" text-anchor="end" stroke-width="0.12" ><tspan font-style="italic">D</tspan> = 0</text>
<text x="460.8" y="301.6" font-size="11.7" fill="#000" text-anchor="end" stroke-width="0.12" >kinematic</text>
<text x="458.3" y="311.5" font-size="11.7" fill="#000" text-anchor="end" stroke-width="0.12" ><tspan font-style="italic">D</tspan> = 0</text>
<text x="360.5" y="257.5" font-size="20" fill="#00ff00" text-anchor="start" stroke-width="0.35" ><tspan font-style="italic">C</tspan>(<tspan font-style="italic">n</tspan>)</text>
<text x="255" y="262" font-size="21" fill="#0000ff" text-anchor="start" stroke-width="0.35" ><tspan font-style="italic">B</tspan>(<tspan font-style="italic">n</tspan>)</text>
<text x="420.5" y="262.5" font-size="20.5" fill="#ff0000" text-anchor="start" stroke-width="0.35" ><tspan font-style="italic">A</tspan>(<tspan font-style="italic">n</tspan>)</text>
<text x="368" y="312.5" font-size="20" fill="#00ff00" text-anchor="start" stroke-width="0.35" ><tspan font-style="italic">C</tspan>(<tspan font-style="italic">n</tspan>)</text>
<text x="280.5" y="342.5" font-size="20.5" fill="#0000ff" text-anchor="start" stroke-width="0.35" ><tspan font-style="italic">B</tspan>(<tspan font-style="italic">n</tspan>)</text>
<text x="411.5" y="339.5" font-size="20.5" fill="#ff0000" text-anchor="start" stroke-width="0.35" ><tspan font-style="italic">A</tspan>(<tspan font-style="italic">n</tspan>)</text>
<path d="M291.0,257.0L304.6,263.1" stroke="#0000ff" stroke-width="1.3"/>
<path d="M311.0,266.0L303.5,265.5L305.7,260.8Z" fill="#0000ff"/>
<path d="M420.0,258.0L410.1,248.8" stroke="#ff0000" stroke-width="1.3"/>
<path d="M405.0,244.0L411.9,246.9L408.3,250.7Z" fill="#ff0000"/>
<path d="M317.0,341.0L332.7,348.9" stroke="#0000ff" stroke-width="1.3"/>
<path d="M339.0,352.0L331.6,351.2L333.9,346.5Z" fill="#0000ff"/>
<path d="M408.0,335.0L379.8,341.4" stroke="#ff0000" stroke-width="1.3"/>
<path d="M373.0,343.0L379.2,338.9L380.4,344.0Z" fill="#ff0000"/>
<path d="M698.4,200.2H486.7V387.9H747.2V200.2H729.2" fill="none" stroke="#3a3a3a" stroke-width="1.3"/>
<rect x="519.4" y="213.8" width="220.80000000000007" height="72.89999999999998" fill="#b6b6b6" stroke="none" stroke-width="1"/>
<path d="M524,263.2L735.3,217.9L740.2,216.9V263.2Z" fill="#fff"/>
<path d="M518.9,263.2H740.2" stroke="#222" stroke-width="0.8"/>
<rect x="519.4" y="213.8" width="220.80000000000007" height="72.89999999999998" fill="none" stroke="#222" stroke-width="1.3"/>
<path d="M523.20,249.70 L544.36,261.90 L565.52,258.40 L586.68,255.10 L607.84,251.60 L629.00,248.40 L650.16,243.00 L671.32,239.00 L692.48,234.90 L713.64,230.90 L734.80,226.00" fill="none" stroke="#ff00ff" stroke-width="1.8" />
<path d="M523.2,245.8L526.9,252.4H519.5Z" fill="#ff00ff"/>
<path d="M544.4,258.0L548.1,264.6H540.7Z" fill="#ff00ff"/>
<path d="M565.5,254.5L569.2,261.1H561.8Z" fill="#ff00ff"/>
<path d="M586.7,251.2L590.4,257.8H583.0Z" fill="#ff00ff"/>
<path d="M607.8,247.7L611.5,254.3H604.1Z" fill="#ff00ff"/>
<path d="M629.0,244.5L632.7,251.1H625.3Z" fill="#ff00ff"/>
<path d="M650.2,239.1L653.9,245.7H646.5Z" fill="#ff00ff"/>
<path d="M671.3,235.1L675.0,241.7H667.6Z" fill="#ff00ff"/>
<path d="M692.5,231.0L696.2,237.6H688.8Z" fill="#ff00ff"/>
<path d="M713.6,227.0L717.3,233.6H709.9Z" fill="#ff00ff"/>
<path d="M734.8,222.1L738.5,228.7H731.1Z" fill="#ff00ff"/>
<path d="M523.20,263.20 L544.36,257.30 L565.52,253.00 L586.68,248.90 L607.84,244.90 L629.00,240.30 L650.16,235.20 L671.32,230.90 L692.48,226.00 L713.64,221.40 L734.80,217.90" fill="none" stroke="#0000ff" stroke-width="1.9" />
<circle cx="523.2" cy="263.2" r="3.5" fill="#0000ff"/>
<circle cx="544.4" cy="257.3" r="3.5" fill="#0000ff"/>
<circle cx="565.5" cy="253.0" r="3.5" fill="#0000ff"/>
<circle cx="586.7" cy="248.9" r="3.5" fill="#0000ff"/>
<circle cx="607.8" cy="244.9" r="3.5" fill="#0000ff"/>
<circle cx="629.0" cy="240.3" r="3.5" fill="#0000ff"/>
<circle cx="650.2" cy="235.2" r="3.5" fill="#0000ff"/>
<circle cx="671.3" cy="230.9" r="3.5" fill="#0000ff"/>
<circle cx="692.5" cy="226.0" r="3.5" fill="#0000ff"/>
<circle cx="713.6" cy="221.4" r="3.5" fill="#0000ff"/>
<circle cx="734.8" cy="217.9" r="3.5" fill="#0000ff"/>
<rect x="520" y="263.6" width="40" height="8" fill="#b6b6b6" fill-opacity="0.6"/>
<text x="524" y="233.6" font-size="20.6" fill="#000" text-anchor="start" stroke-width="0.35" class="g">LU-band</text>
<text x="585" y="282.3" font-size="20.5" fill="#000" text-anchor="start" stroke-width="0.35" class="g">LL-band</text>
<text x="702" y="254" font-size="16.5" fill="#000" text-anchor="start" stroke-width="0.25" >GAP</text>
<text x="620" y="229" font-size="13.5" stroke-width="0.15" class="g"><tspan font-style="italic">r</tspan><tspan font-size="8.4" dy="3.5">B</tspan><tspan dy="-3.5"> = 0</tspan></text>
<text x="654" y="255" font-size="13.5" stroke-width="0.15" ><tspan font-style="italic">r</tspan><tspan font-size="8.4" dy="3.5">B</tspan><tspan dy="-3.5"> = 3<tspan font-style="italic">a</tspan></tspan></text>
<text x="505.2" y="222.6" font-size="14.8" fill="#000" text-anchor="start" font-style="italic" stroke-width="0.25" >G</text>
<text x="509" y="269" font-size="15" fill="#000" text-anchor="start" stroke-width="0.25" >0</text>
<text x="504.8" y="253.5" font-size="15.5" font-style="italic" transform="rotate(-90 504.8 253.5)">E</text>
<text x="508.6" y="244.3" font-size="14" font-style="italic" transform="rotate(-90 508.6 244.3)">bP</text>
<text x="497.3" y="241.5" font-size="13.2" transform="rotate(-90 497.3 241.5)">(kin)</text>
<path d="M522.5,295.6V362.8" stroke="#999" stroke-width="1"/>
<path d="M523.20,347.90 L544.36,328.50 L565.52,320.40 L586.68,315.00 L607.84,311.80 L629.00,310.20 L650.16,309.10 L671.32,308.30 L692.48,307.70 L713.64,307.70 L734.80,308.30" fill="none" stroke="#ff00ff" stroke-width="1.8" />
<path d="M523.2,344.0L526.9,350.6H519.5Z" fill="#ff00ff"/>
<path d="M544.4,324.6L548.1,331.2H540.7Z" fill="#ff00ff"/>
<path d="M565.5,316.5L569.2,323.1H561.8Z" fill="#ff00ff"/>
<path d="M586.7,311.1L590.4,317.7H583.0Z" fill="#ff00ff"/>
<path d="M607.8,307.9L611.5,314.5H604.1Z" fill="#ff00ff"/>
<path d="M629.0,306.3L632.7,312.9H625.3Z" fill="#ff00ff"/>
<path d="M650.2,305.2L653.9,311.8H646.5Z" fill="#ff00ff"/>
<path d="M671.3,304.4L675.0,311.0H667.6Z" fill="#ff00ff"/>
<path d="M692.5,303.8L696.2,310.4H688.8Z" fill="#ff00ff"/>
<path d="M713.6,303.8L717.3,310.4H709.9Z" fill="#ff00ff"/>
<path d="M734.8,304.4L738.5,311.0H731.1Z" fill="#ff00ff"/>
<path d="M523.20,359.40 L544.36,358.40 L565.52,357.60 L586.68,357.10 L607.84,356.60 L629.00,356.60 L650.16,355.90 L671.32,355.80 L692.48,355.40 L713.64,355.10 L734.80,354.80" fill="none" stroke="#0000ff" stroke-width="2.2" />
<circle cx="523.2" cy="359.4" r="3.5" fill="#0000ff"/>
<circle cx="544.4" cy="358.4" r="3.5" fill="#0000ff"/>
<circle cx="565.5" cy="357.6" r="3.5" fill="#0000ff"/>
<circle cx="586.7" cy="357.1" r="3.5" fill="#0000ff"/>
<circle cx="607.8" cy="356.6" r="3.5" fill="#0000ff"/>
<circle cx="629.0" cy="356.6" r="3.5" fill="#0000ff"/>
<circle cx="650.2" cy="355.9" r="3.5" fill="#0000ff"/>
<circle cx="671.3" cy="355.8" r="3.5" fill="#0000ff"/>
<circle cx="692.5" cy="355.4" r="3.5" fill="#0000ff"/>
<circle cx="713.6" cy="355.1" r="3.5" fill="#0000ff"/>
<circle cx="734.8" cy="354.8" r="3.5" fill="#0000ff"/>
<path d="M518.9,359.3H740.2" stroke="#aaa" stroke-width="0.8"/>
<rect x="519.4" y="295.6" width="220.80000000000007" height="67.19999999999999" fill="none" stroke="#222" stroke-width="1.3"/>
<text x="497.5" y="306" font-size="15" fill="#000" text-anchor="start" stroke-width="0.25" >0.7</text>
<text x="509" y="363" font-size="15" fill="#000" text-anchor="start" stroke-width="0.25" >0</text>
<text x="519.5" y="376.5" font-size="16" fill="#000" text-anchor="start" stroke-width="0.25" >0</text>
<text x="733.8" y="378.2" font-size="16.3" fill="#000" text-anchor="start" stroke-width="0.25" >1</text>
<text x="625.5" y="379" font-size="16.5" fill="#000" text-anchor="start" stroke-width="0.25" >δ/<tspan font-style="italic">G</tspan></text>
<text x="509.5" y="340" font-size="16" fill="#000" text-anchor="start" transform="rotate(-90 509.5 340)" stroke-width="0.25" letter-spacing="2">ΔA</text>
<text x="531" y="315" font-size="13.5" stroke-width="0.15" ><tspan font-style="italic">r</tspan><tspan font-size="8.4" dy="3.5">B</tspan><tspan dy="-3.5"> = 3<tspan font-style="italic">a</tspan></tspan></text>
<text x="659" y="347.5" font-size="13.5" stroke-width="0.15" ><tspan font-style="italic">r</tspan><tspan font-size="8.4" dy="3.5">B</tspan><tspan dy="-3.5"> = 0</tspan></text>
<text x="698.7" y="200.3" font-size="26" fill="#000" text-anchor="start" stroke-width="0.35" >(e)</text>
</svg></body></html>
